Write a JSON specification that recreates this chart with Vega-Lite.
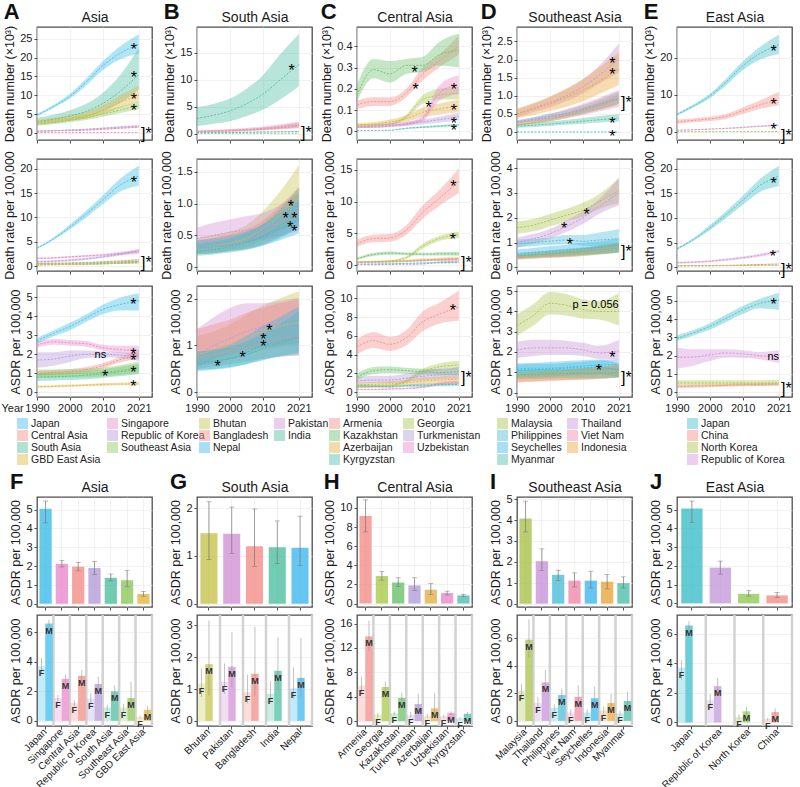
{
"$schema":"https://vega.github.io/schema/vega-lite/v6.json",
"background":"white",
"padding":{"left":0,"right":0,"top":0,"bottom":0},
"config":{
 "font":"Liberation Sans",
 "view":{"stroke":"#4d4d4d","strokeWidth":1.3},
 "axis":{"domain":false,"tickCount":30,"labelOverlap":false,"labelFontSize":11,"labelColor":"#1a1a1a","titleFontSize":12.5,"titleFontWeight":"normal","titleColor":"#1a1a1a","tickColor":"#4d4d4d","tickSize":3,"labelPadding":2,"titlePadding":3,"gridColor":"#ebebeb","gridWidth":0.7},
 "axisX":{"labelFlush":false},
 "title":{"fontSize":14,"fontWeight":"normal","color":"#111"},
 "legend":{"labelFontSize":10.5,"labelColor":"#222"}
},
"datasets":{
"A":[
{"s":"Japan","x":1990,"n":4.7,"nl":4.4,"nh":5.0,"r":3.7,"rl":3.5,"rh":3.9,"a":2.7,"al":2.55,"ah":2.85},
{"s":"Japan","x":1995,"n":7.0,"nl":6.6,"nh":7.4,"r":5.6,"rl":5.3,"rh":5.9,"a":3.1,"al":2.95,"ah":3.25},
{"s":"Japan","x":2000,"n":9.7,"nl":9.1,"nh":10.3,"r":8.0,"rl":7.5,"rh":8.5,"a":3.45,"al":3.25,"ah":3.65},
{"s":"Japan","x":2005,"n":13.5,"nl":12.6,"nh":14.4,"r":10.7,"rl":10.0,"rh":11.4,"a":3.9,"al":3.7,"ah":4.1},
{"s":"Japan","x":2010,"n":17.8,"nl":16.6,"nh":19.0,"r":13.6,"rl":12.7,"rh":14.5,"a":4.35,"al":4.1,"ah":4.6},
{"s":"Japan","x":2015,"n":21.0,"nl":19.4,"nh":22.8,"r":16.5,"rl":15.2,"rh":17.8,"a":4.6,"al":4.3,"ah":4.95},
{"s":"Japan","x":2021,"n":23.5,"nl":21.0,"nh":26.2,"r":18.5,"rl":16.5,"rh":20.6,"a":4.8,"al":4.3,"ah":5.2},
{"s":"Singapore","x":1990,"n":0.05,"nl":0.04,"nh":0.06,"r":1.6,"rl":1.45,"rh":1.75,"a":2.5,"al":2.35,"ah":2.65},
{"s":"Singapore","x":1995,"n":0.06,"nl":0.05,"nh":0.07,"r":1.7,"rl":1.5,"rh":1.9,"a":2.65,"al":2.5,"ah":2.8},
{"s":"Singapore","x":2000,"n":0.07,"nl":0.06,"nh":0.08,"r":1.9,"rl":1.7,"rh":2.1,"a":2.6,"al":2.45,"ah":2.75},
{"s":"Singapore","x":2005,"n":0.08,"nl":0.07,"nh":0.09,"r":2.1,"rl":1.9,"rh":2.3,"a":2.55,"al":2.4,"ah":2.7},
{"s":"Singapore","x":2010,"n":0.09,"nl":0.08,"nh":0.1,"r":2.3,"rl":2.1,"rh":2.5,"a":2.35,"al":2.2,"ah":2.5},
{"s":"Singapore","x":2015,"n":0.1,"nl":0.09,"nh":0.11,"r":2.6,"rl":2.3,"rh":2.9,"a":2.25,"al":2.05,"ah":2.45},
{"s":"Singapore","x":2021,"n":0.11,"nl":0.1,"nh":0.13,"r":2.9,"rl":2.5,"rh":3.3,"a":2.2,"al":1.95,"ah":2.45},
{"s":"Central Asia","x":1990,"n":0.45,"nl":0.38,"nh":0.52,"r":0.55,"rl":0.45,"rh":0.65,"a":1.0,"al":0.88,"ah":1.12},
{"s":"Central Asia","x":1995,"n":0.55,"nl":0.47,"nh":0.63,"r":0.6,"rl":0.5,"rh":0.7,"a":1.05,"al":0.93,"ah":1.17},
{"s":"Central Asia","x":2000,"n":0.6,"nl":0.52,"nh":0.69,"r":0.65,"rl":0.55,"rh":0.75,"a":1.1,"al":0.98,"ah":1.22},
{"s":"Central Asia","x":2005,"n":0.7,"nl":0.61,"nh":0.8,"r":0.75,"rl":0.65,"rh":0.85,"a":1.2,"al":1.07,"ah":1.33},
{"s":"Central Asia","x":2010,"n":0.95,"nl":0.83,"nh":1.08,"r":0.9,"rl":0.79,"rh":1.01,"a":1.4,"al":1.26,"ah":1.54},
{"s":"Central Asia","x":2015,"n":1.2,"nl":1.06,"nh":1.35,"r":1.05,"rl":0.93,"rh":1.17,"a":1.7,"al":1.55,"ah":1.85},
{"s":"Central Asia","x":2021,"n":1.5,"nl":1.32,"nh":1.7,"r":1.3,"rl":1.15,"rh":1.45,"a":1.95,"al":1.75,"ah":2.2},
{"s":"Republic of Korea","x":1990,"n":0.4,"nl":0.3,"nh":0.5,"r":0.9,"rl":0.7,"rh":1.1,"a":1.7,"al":1.3,"ah":2.1},
{"s":"Republic of Korea","x":1995,"n":0.55,"nl":0.43,"nh":0.67,"r":1.0,"rl":0.8,"rh":1.2,"a":1.75,"al":1.4,"ah":2.1},
{"s":"Republic of Korea","x":2000,"n":0.75,"nl":0.6,"nh":0.9,"r":1.2,"rl":1.0,"rh":1.4,"a":1.9,"al":1.6,"ah":2.2},
{"s":"Republic of Korea","x":2005,"n":0.95,"nl":0.78,"nh":1.12,"r":1.5,"rl":1.28,"rh":1.72,"a":2.0,"al":1.8,"ah":2.2},
{"s":"Republic of Korea","x":2010,"n":1.2,"nl":1.0,"nh":1.4,"r":1.9,"rl":1.65,"rh":2.15,"a":2.0,"al":1.85,"ah":2.15},
{"s":"Republic of Korea","x":2015,"n":1.5,"nl":1.28,"nh":1.72,"r":2.4,"rl":2.12,"rh":2.68,"a":1.95,"al":1.8,"ah":2.1},
{"s":"Republic of Korea","x":2021,"n":1.8,"nl":1.55,"nh":2.05,"r":3.2,"rl":2.85,"rh":3.55,"a":1.85,"al":1.65,"ah":2.05},
{"s":"South Asia","x":1990,"n":3.0,"nl":2.3,"nh":4.0,"r":0.25,"rl":0.19,"rh":0.33,"a":0.8,"al":0.6,"ah":1.0},
{"s":"South Asia","x":1995,"n":3.6,"nl":2.7,"nh":4.8,"r":0.3,"rl":0.23,"rh":0.39,"a":0.82,"al":0.62,"ah":1.03},
{"s":"South Asia","x":2000,"n":4.5,"nl":3.3,"nh":6.0,"r":0.35,"rl":0.27,"rh":0.45,"a":0.85,"al":0.65,"ah":1.07},
{"s":"South Asia","x":2005,"n":5.7,"nl":4.2,"nh":7.7,"r":0.42,"rl":0.32,"rh":0.54,"a":0.9,"al":0.69,"ah":1.13},
{"s":"South Asia","x":2010,"n":7.8,"nl":5.7,"nh":10.6,"r":0.52,"rl":0.4,"rh":0.67,"a":0.98,"al":0.76,"ah":1.22},
{"s":"South Asia","x":2015,"n":10.8,"nl":7.8,"nh":15.0,"r":0.65,"rl":0.5,"rh":0.84,"a":1.08,"al":0.85,"ah":1.34},
{"s":"South Asia","x":2021,"n":15.5,"nl":11.5,"nh":22.5,"r":0.85,"rl":0.65,"rh":1.1,"a":1.22,"al":0.95,"ah":1.52},
{"s":"Southeast Asia","x":1990,"n":2.2,"nl":1.9,"nh":2.6,"r":0.45,"rl":0.38,"rh":0.52,"a":0.95,"al":0.75,"ah":1.2},
{"s":"Southeast Asia","x":1995,"n":2.7,"nl":2.3,"nh":3.1,"r":0.5,"rl":0.43,"rh":0.58,"a":0.95,"al":0.75,"ah":1.2},
{"s":"Southeast Asia","x":2000,"n":3.3,"nl":2.8,"nh":3.8,"r":0.55,"rl":0.47,"rh":0.64,"a":0.98,"al":0.78,"ah":1.23},
{"s":"Southeast Asia","x":2005,"n":4.0,"nl":3.4,"nh":4.6,"r":0.62,"rl":0.53,"rh":0.72,"a":1.0,"al":0.8,"ah":1.25},
{"s":"Southeast Asia","x":2010,"n":5.0,"nl":4.3,"nh":5.8,"r":0.72,"rl":0.62,"rh":0.83,"a":1.05,"al":0.84,"ah":1.3},
{"s":"Southeast Asia","x":2015,"n":6.0,"nl":5.2,"nh":6.9,"r":0.85,"rl":0.73,"rh":0.98,"a":1.15,"al":0.92,"ah":1.42},
{"s":"Southeast Asia","x":2021,"n":7.2,"nl":6.2,"nh":8.3,"r":1.0,"rl":0.85,"rh":1.16,"a":1.3,"al":1.02,"ah":1.62},
{"s":"GBD East Asia","x":1990,"n":2.8,"nl":2.3,"nh":3.4,"r":0.25,"rl":0.21,"rh":0.29,"a":0.3,"al":0.24,"ah":0.36},
{"s":"GBD East Asia","x":1995,"n":3.3,"nl":2.7,"nh":4.0,"r":0.28,"rl":0.24,"rh":0.32,"a":0.32,"al":0.26,"ah":0.38},
{"s":"GBD East Asia","x":2000,"n":3.9,"nl":3.2,"nh":4.7,"r":0.32,"rl":0.27,"rh":0.37,"a":0.35,"al":0.29,"ah":0.41},
{"s":"GBD East Asia","x":2005,"n":4.6,"nl":3.8,"nh":5.6,"r":0.37,"rl":0.31,"rh":0.43,"a":0.38,"al":0.32,"ah":0.44},
{"s":"GBD East Asia","x":2010,"n":6.0,"nl":5.0,"nh":7.3,"r":0.45,"rl":0.38,"rh":0.52,"a":0.42,"al":0.35,"ah":0.49},
{"s":"GBD East Asia","x":2015,"n":8.0,"nl":6.6,"nh":9.8,"r":0.55,"rl":0.47,"rh":0.64,"a":0.44,"al":0.37,"ah":0.51},
{"s":"GBD East Asia","x":2021,"n":10.0,"nl":8.2,"nh":12.5,"r":0.65,"rl":0.55,"rh":0.76,"a":0.45,"al":0.38,"ah":0.53}
],
"B":[
{"s":"Bhutan","x":1990,"n":0.01,"nl":0.005,"nh":0.015,"r":0.3,"rl":0.2,"rh":0.45,"a":0.8,"al":0.55,"ah":1.2},
{"s":"Bhutan","x":1995,"n":0.01,"nl":0.005,"nh":0.015,"r":0.33,"rl":0.22,"rh":0.5,"a":0.9,"al":0.62,"ah":1.3},
{"s":"Bhutan","x":2000,"n":0.01,"nl":0.006,"nh":0.016,"r":0.38,"rl":0.26,"rh":0.56,"a":1.0,"al":0.7,"ah":1.45},
{"s":"Bhutan","x":2005,"n":0.012,"nl":0.007,"nh":0.018,"r":0.45,"rl":0.31,"rh":0.66,"a":1.15,"al":0.8,"ah":1.65},
{"s":"Bhutan","x":2010,"n":0.015,"nl":0.009,"nh":0.022,"r":0.6,"rl":0.42,"rh":0.88,"a":1.3,"al":0.9,"ah":1.85},
{"s":"Bhutan","x":2015,"n":0.018,"nl":0.011,"nh":0.027,"r":0.8,"rl":0.56,"rh":1.17,"a":1.4,"al":0.97,"ah":2.0},
{"s":"Bhutan","x":2021,"n":0.02,"nl":0.013,"nh":0.03,"r":1.05,"rl":0.72,"rh":1.6,"a":1.5,"al":1.0,"ah":2.15},
{"s":"Pakistan","x":1990,"n":0.4,"nl":0.28,"nh":0.56,"r":0.45,"rl":0.3,"rh":0.62,"a":0.8,"al":0.55,"ah":1.35},
{"s":"Pakistan","x":1995,"n":0.5,"nl":0.35,"nh":0.7,"r":0.5,"rl":0.34,"rh":0.7,"a":1.0,"al":0.7,"ah":1.6},
{"s":"Pakistan","x":2000,"n":0.6,"nl":0.42,"nh":0.84,"r":0.55,"rl":0.38,"rh":0.75,"a":1.15,"al":0.8,"ah":1.8},
{"s":"Pakistan","x":2005,"n":0.75,"nl":0.53,"nh":1.05,"r":0.58,"rl":0.4,"rh":0.8,"a":1.3,"al":0.9,"ah":1.9},
{"s":"Pakistan","x":2010,"n":0.95,"nl":0.67,"nh":1.33,"r":0.62,"rl":0.43,"rh":0.85,"a":1.4,"al":0.97,"ah":1.9},
{"s":"Pakistan","x":2015,"n":1.2,"nl":0.84,"nh":1.68,"r":0.7,"rl":0.48,"rh":0.97,"a":1.45,"al":1.0,"ah":1.95},
{"s":"Pakistan","x":2021,"n":1.6,"nl":1.12,"nh":2.24,"r":0.85,"rl":0.58,"rh":1.17,"a":1.46,"al":1.05,"ah":2.02},
{"s":"Bangladesh","x":1990,"n":0.35,"nl":0.25,"nh":0.49,"r":0.3,"rl":0.21,"rh":0.42,"a":0.75,"al":0.5,"ah":1.35},
{"s":"Bangladesh","x":1995,"n":0.42,"nl":0.29,"nh":0.59,"r":0.33,"rl":0.23,"rh":0.46,"a":0.8,"al":0.55,"ah":1.45},
{"s":"Bangladesh","x":2000,"n":0.5,"nl":0.35,"nh":0.7,"r":0.37,"rl":0.26,"rh":0.52,"a":0.88,"al":0.6,"ah":1.55},
{"s":"Bangladesh","x":2005,"n":0.62,"nl":0.43,"nh":0.87,"r":0.42,"rl":0.29,"rh":0.59,"a":0.95,"al":0.65,"ah":1.7},
{"s":"Bangladesh","x":2010,"n":0.8,"nl":0.56,"nh":1.12,"r":0.52,"rl":0.36,"rh":0.73,"a":1.05,"al":0.72,"ah":1.8},
{"s":"Bangladesh","x":2015,"n":1.05,"nl":0.74,"nh":1.47,"r":0.68,"rl":0.48,"rh":0.95,"a":1.12,"al":0.76,"ah":1.9},
{"s":"Bangladesh","x":2021,"n":1.4,"nl":0.98,"nh":1.96,"r":0.9,"rl":0.63,"rh":1.26,"a":1.2,"al":0.78,"ah":1.98},
{"s":"India","x":1990,"n":2.8,"nl":1.4,"nh":4.9,"r":0.25,"rl":0.18,"rh":0.36,"a":0.65,"al":0.48,"ah":0.88},
{"s":"India","x":1995,"n":3.4,"nl":1.8,"nh":5.5,"r":0.28,"rl":0.2,"rh":0.4,"a":0.67,"al":0.5,"ah":0.9},
{"s":"India","x":2000,"n":4.2,"nl":2.3,"nh":6.5,"r":0.32,"rl":0.23,"rh":0.45,"a":0.72,"al":0.54,"ah":0.97},
{"s":"India","x":2005,"n":5.5,"nl":3.2,"nh":8.3,"r":0.38,"rl":0.27,"rh":0.54,"a":0.8,"al":0.6,"ah":1.08},
{"s":"India","x":2010,"n":7.3,"nl":4.4,"nh":10.8,"r":0.48,"rl":0.34,"rh":0.68,"a":0.93,"al":0.68,"ah":1.25},
{"s":"India","x":2015,"n":9.8,"nl":6.2,"nh":14.5,"r":0.64,"rl":0.45,"rh":0.9,"a":1.05,"al":0.77,"ah":1.45},
{"s":"India","x":2021,"n":12.8,"nl":8.8,"nh":18.5,"r":0.9,"rl":0.64,"rh":1.25,"a":1.18,"al":0.84,"ah":1.73},
{"s":"Nepal","x":1990,"n":0.15,"nl":0.1,"nh":0.21,"r":0.3,"rl":0.21,"rh":0.42,"a":0.6,"al":0.45,"ah":0.85},
{"s":"Nepal","x":1995,"n":0.17,"nl":0.12,"nh":0.24,"r":0.32,"rl":0.22,"rh":0.45,"a":0.65,"al":0.48,"ah":0.92},
{"s":"Nepal","x":2000,"n":0.2,"nl":0.14,"nh":0.28,"r":0.35,"rl":0.25,"rh":0.49,"a":0.72,"al":0.52,"ah":1.02},
{"s":"Nepal","x":2005,"n":0.23,"nl":0.16,"nh":0.32,"r":0.4,"rl":0.28,"rh":0.56,"a":0.85,"al":0.6,"ah":1.2},
{"s":"Nepal","x":2010,"n":0.27,"nl":0.19,"nh":0.38,"r":0.48,"rl":0.34,"rh":0.67,"a":1.0,"al":0.7,"ah":1.42},
{"s":"Nepal","x":2015,"n":0.31,"nl":0.22,"nh":0.43,"r":0.6,"rl":0.42,"rh":0.84,"a":1.1,"al":0.76,"ah":1.6},
{"s":"Nepal","x":2021,"n":0.35,"nl":0.25,"nh":0.49,"r":0.75,"rl":0.53,"rh":1.05,"a":1.17,"al":0.8,"ah":1.83}
],
"C":[
{"s":"Armenia","x":1990,"n":0.125,"nl":0.105,"nh":0.145,"r":3.4,"rl":2.9,"rh":4.0,"a":4.8,"al":4.0,"ah":5.6},
{"s":"Armenia","x":1995,"n":0.14,"nl":0.12,"nh":0.16,"r":4.2,"rl":3.6,"rh":4.8,"a":5.5,"al":4.7,"ah":6.4},
{"s":"Armenia","x":2000,"n":0.14,"nl":0.12,"nh":0.16,"r":4.3,"rl":3.7,"rh":4.9,"a":5.1,"al":4.4,"ah":5.9},
{"s":"Armenia","x":2005,"n":0.18,"nl":0.16,"nh":0.2,"r":5.5,"rl":4.8,"rh":6.3,"a":5.8,"al":5.0,"ah":6.6},
{"s":"Armenia","x":2010,"n":0.27,"nl":0.24,"nh":0.3,"r":8.3,"rl":7.3,"rh":9.4,"a":7.5,"al":6.5,"ah":8.6},
{"s":"Armenia","x":2015,"n":0.33,"nl":0.3,"nh":0.36,"r":10.5,"rl":9.3,"rh":11.8,"a":8.3,"al":7.3,"ah":9.5},
{"s":"Armenia","x":2021,"n":0.4,"nl":0.36,"nh":0.45,"r":13.2,"rl":11.3,"rh":15.2,"a":9.1,"al":7.6,"ah":10.8},
{"s":"Georgia","x":1990,"n":0.03,"nl":0.025,"nh":0.035,"r":0.5,"rl":0.42,"rh":0.6,"a":0.5,"al":0.42,"ah":0.6},
{"s":"Georgia","x":1995,"n":0.03,"nl":0.025,"nh":0.035,"r":0.6,"rl":0.5,"rh":0.7,"a":0.6,"al":0.5,"ah":0.7},
{"s":"Georgia","x":2000,"n":0.035,"nl":0.03,"nh":0.04,"r":0.7,"rl":0.6,"rh":0.8,"a":0.7,"al":0.6,"ah":0.8},
{"s":"Georgia","x":2005,"n":0.07,"nl":0.06,"nh":0.08,"r":1.2,"rl":1.0,"rh":1.4,"a":1.2,"al":1.0,"ah":1.4},
{"s":"Georgia","x":2010,"n":0.15,"nl":0.13,"nh":0.17,"r":3.0,"rl":2.6,"rh":3.4,"a":2.2,"al":1.9,"ah":2.5},
{"s":"Georgia","x":2015,"n":0.17,"nl":0.15,"nh":0.2,"r":4.2,"rl":3.8,"rh":4.6,"a":2.7,"al":2.35,"ah":3.05},
{"s":"Georgia","x":2021,"n":0.18,"nl":0.15,"nh":0.21,"r":4.8,"rl":4.3,"rh":5.3,"a":2.9,"al":2.5,"ah":3.35},
{"s":"Kazakhstan","x":1990,"n":0.17,"nl":0.14,"nh":0.22,"r":1.0,"rl":0.85,"rh":1.2,"a":1.6,"al":1.3,"ah":2.0},
{"s":"Kazakhstan","x":1995,"n":0.29,"nl":0.25,"nh":0.34,"r":1.7,"rl":1.45,"rh":1.95,"a":2.3,"al":1.95,"ah":2.7},
{"s":"Kazakhstan","x":2000,"n":0.27,"nl":0.23,"nh":0.33,"r":1.9,"rl":1.65,"rh":2.15,"a":2.4,"al":2.05,"ah":2.75},
{"s":"Kazakhstan","x":2005,"n":0.31,"nl":0.27,"nh":0.34,"r":1.8,"rl":1.6,"rh":2.0,"a":2.3,"al":2.0,"ah":2.6},
{"s":"Kazakhstan","x":2010,"n":0.31,"nl":0.28,"nh":0.35,"r":1.75,"rl":1.55,"rh":1.95,"a":2.2,"al":1.9,"ah":2.5},
{"s":"Kazakhstan","x":2015,"n":0.36,"nl":0.31,"nh":0.42,"r":1.8,"rl":1.55,"rh":2.05,"a":2.1,"al":1.8,"ah":2.45},
{"s":"Kazakhstan","x":2021,"n":0.38,"nl":0.3,"nh":0.46,"r":1.8,"rl":1.5,"rh":2.1,"a":2.2,"al":1.8,"ah":2.7},
{"s":"Turkmenistan","x":1990,"n":0.02,"nl":0.015,"nh":0.025,"r":0.45,"rl":0.36,"rh":0.54,"a":1.2,"al":0.9,"ah":1.6},
{"s":"Turkmenistan","x":1995,"n":0.025,"nl":0.019,"nh":0.031,"r":0.5,"rl":0.4,"rh":0.6,"a":1.3,"al":0.98,"ah":1.75},
{"s":"Turkmenistan","x":2000,"n":0.03,"nl":0.023,"nh":0.038,"r":0.55,"rl":0.44,"rh":0.66,"a":1.3,"al":0.98,"ah":1.75},
{"s":"Turkmenistan","x":2005,"n":0.035,"nl":0.026,"nh":0.044,"r":0.65,"rl":0.52,"rh":0.78,"a":1.5,"al":1.13,"ah":2.0},
{"s":"Turkmenistan","x":2010,"n":0.045,"nl":0.034,"nh":0.056,"r":0.75,"rl":0.6,"rh":0.9,"a":1.7,"al":1.28,"ah":2.3},
{"s":"Turkmenistan","x":2015,"n":0.055,"nl":0.041,"nh":0.069,"r":0.85,"rl":0.68,"rh":1.02,"a":1.85,"al":1.39,"ah":2.5},
{"s":"Turkmenistan","x":2021,"n":0.07,"nl":0.053,"nh":0.088,"r":1.0,"rl":0.8,"rh":1.2,"a":1.9,"al":1.43,"ah":2.55},
{"s":"Azerbaijan","x":1990,"n":0.03,"nl":0.023,"nh":0.038,"r":0.5,"rl":0.38,"rh":0.63,"a":0.8,"al":0.56,"ah":1.04},
{"s":"Azerbaijan","x":1995,"n":0.035,"nl":0.026,"nh":0.044,"r":0.55,"rl":0.41,"rh":0.69,"a":0.85,"al":0.6,"ah":1.1},
{"s":"Azerbaijan","x":2000,"n":0.045,"nl":0.034,"nh":0.056,"r":0.6,"rl":0.45,"rh":0.75,"a":0.9,"al":0.63,"ah":1.17},
{"s":"Azerbaijan","x":2005,"n":0.06,"nl":0.045,"nh":0.075,"r":0.7,"rl":0.53,"rh":0.88,"a":1.0,"al":0.7,"ah":1.3},
{"s":"Azerbaijan","x":2010,"n":0.09,"nl":0.068,"nh":0.113,"r":0.85,"rl":0.64,"rh":1.06,"a":1.2,"al":0.84,"ah":1.56},
{"s":"Azerbaijan","x":2015,"n":0.105,"nl":0.079,"nh":0.131,"r":0.95,"rl":0.71,"rh":1.19,"a":1.3,"al":0.91,"ah":1.69},
{"s":"Azerbaijan","x":2021,"n":0.12,"nl":0.09,"nh":0.15,"r":1.05,"rl":0.79,"rh":1.31,"a":1.4,"al":0.98,"ah":1.82},
{"s":"Uzbekistan","x":1990,"n":0.02,"nl":0.016,"nh":0.024,"r":0.1,"rl":0.08,"rh":0.12,"a":0.3,"al":0.24,"ah":0.36},
{"s":"Uzbekistan","x":1995,"n":0.02,"nl":0.016,"nh":0.024,"r":0.1,"rl":0.08,"rh":0.12,"a":0.3,"al":0.24,"ah":0.36},
{"s":"Uzbekistan","x":2000,"n":0.025,"nl":0.02,"nh":0.03,"r":0.12,"rl":0.1,"rh":0.14,"a":0.35,"al":0.28,"ah":0.42},
{"s":"Uzbekistan","x":2005,"n":0.035,"nl":0.028,"nh":0.042,"r":0.14,"rl":0.11,"rh":0.17,"a":0.4,"al":0.32,"ah":0.48},
{"s":"Uzbekistan","x":2010,"n":0.06,"nl":0.048,"nh":0.072,"r":0.2,"rl":0.16,"rh":0.24,"a":0.55,"al":0.44,"ah":0.66},
{"s":"Uzbekistan","x":2015,"n":0.18,"nl":0.144,"nh":0.216,"r":0.5,"rl":0.4,"rh":0.6,"a":0.9,"al":0.72,"ah":1.08},
{"s":"Uzbekistan","x":2021,"n":0.22,"nl":0.176,"nh":0.264,"r":0.65,"rl":0.52,"rh":0.78,"a":1.05,"al":0.84,"ah":1.26},
{"s":"Kyrgyzstan","x":1990,"n":0.005,"nl":0.004,"nh":0.006,"r":0.2,"rl":0.16,"rh":0.24,"a":0.7,"al":0.56,"ah":0.84},
{"s":"Kyrgyzstan","x":1995,"n":0.005,"nl":0.004,"nh":0.006,"r":0.2,"rl":0.16,"rh":0.24,"a":0.65,"al":0.52,"ah":0.78},
{"s":"Kyrgyzstan","x":2000,"n":0.006,"nl":0.005,"nh":0.007,"r":0.22,"rl":0.18,"rh":0.26,"a":0.6,"al":0.48,"ah":0.72},
{"s":"Kyrgyzstan","x":2005,"n":0.015,"nl":0.012,"nh":0.018,"r":0.3,"rl":0.24,"rh":0.36,"a":0.7,"al":0.56,"ah":0.84},
{"s":"Kyrgyzstan","x":2010,"n":0.02,"nl":0.016,"nh":0.024,"r":0.35,"rl":0.28,"rh":0.42,"a":0.75,"al":0.6,"ah":0.9},
{"s":"Kyrgyzstan","x":2015,"n":0.025,"nl":0.02,"nh":0.03,"r":0.38,"rl":0.3,"rh":0.46,"a":0.8,"al":0.64,"ah":0.96},
{"s":"Kyrgyzstan","x":2021,"n":0.03,"nl":0.024,"nh":0.036,"r":0.42,"rl":0.34,"rh":0.5,"a":0.85,"al":0.68,"ah":1.02}
],
"D":[
{"s":"Malaysia","x":1990,"n":0.2,"nl":0.17,"nh":0.23,"r":1.6,"rl":1.35,"rh":1.85,"a":3.3,"al":2.8,"ah":3.85},
{"s":"Malaysia","x":1995,"n":0.26,"nl":0.22,"nh":0.3,"r":1.7,"rl":1.45,"rh":1.95,"a":3.8,"al":3.3,"ah":4.35},
{"s":"Malaysia","x":2000,"n":0.34,"nl":0.29,"nh":0.39,"r":1.9,"rl":1.65,"rh":2.15,"a":4.4,"al":3.85,"ah":4.95},
{"s":"Malaysia","x":2005,"n":0.45,"nl":0.38,"nh":0.52,"r":2.1,"rl":1.85,"rh":2.35,"a":4.3,"al":3.8,"ah":4.85},
{"s":"Malaysia","x":2010,"n":0.58,"nl":0.49,"nh":0.67,"r":2.3,"rl":2.05,"rh":2.6,"a":4.1,"al":3.65,"ah":4.6},
{"s":"Malaysia","x":2015,"n":0.72,"nl":0.61,"nh":0.83,"r":2.65,"rl":2.35,"rh":2.95,"a":4.0,"al":3.6,"ah":4.5},
{"s":"Malaysia","x":2021,"n":0.9,"nl":0.77,"nh":1.04,"r":3.1,"rl":2.6,"rh":3.6,"a":4.0,"al":3.3,"ah":4.9},
{"s":"Thailand","x":1990,"n":0.5,"nl":0.4,"nh":0.62,"r":1.0,"rl":0.8,"rh":1.2,"a":2.1,"al":1.7,"ah":2.5},
{"s":"Thailand","x":1995,"n":0.66,"nl":0.55,"nh":0.78,"r":1.15,"rl":0.95,"rh":1.35,"a":2.2,"al":1.8,"ah":2.6},
{"s":"Thailand","x":2000,"n":0.82,"nl":0.68,"nh":0.97,"r":1.35,"rl":1.15,"rh":1.55,"a":2.2,"al":1.85,"ah":2.6},
{"s":"Thailand","x":2005,"n":1.0,"nl":0.85,"nh":1.18,"r":1.65,"rl":1.42,"rh":1.88,"a":2.2,"al":1.85,"ah":2.55},
{"s":"Thailand","x":2010,"n":1.25,"nl":1.06,"nh":1.46,"r":2.0,"rl":1.75,"rh":2.25,"a":2.1,"al":1.8,"ah":2.45},
{"s":"Thailand","x":2015,"n":1.57,"nl":1.33,"nh":1.83,"r":2.45,"rl":2.15,"rh":2.75,"a":1.95,"al":1.65,"ah":2.3},
{"s":"Thailand","x":2021,"n":2.03,"nl":1.65,"nh":2.45,"r":3.0,"rl":2.5,"rh":3.6,"a":2.05,"al":1.6,"ah":2.6},
{"s":"Philippines","x":1990,"n":0.28,"nl":0.23,"nh":0.33,"r":0.95,"rl":0.8,"rh":1.1,"a":1.15,"al":0.95,"ah":1.38},
{"s":"Philippines","x":1995,"n":0.35,"nl":0.29,"nh":0.41,"r":1.0,"rl":0.85,"rh":1.15,"a":1.2,"al":1.0,"ah":1.42},
{"s":"Philippines","x":2000,"n":0.43,"nl":0.35,"nh":0.51,"r":1.05,"rl":0.9,"rh":1.2,"a":1.2,"al":1.0,"ah":1.42},
{"s":"Philippines","x":2005,"n":0.52,"nl":0.43,"nh":0.61,"r":1.1,"rl":0.93,"rh":1.3,"a":1.25,"al":1.05,"ah":1.47},
{"s":"Philippines","x":2010,"n":0.63,"nl":0.52,"nh":0.74,"r":1.05,"rl":0.88,"rh":1.3,"a":1.3,"al":1.1,"ah":1.52},
{"s":"Philippines","x":2015,"n":0.76,"nl":0.62,"nh":0.9,"r":1.1,"rl":0.85,"rh":1.4,"a":1.35,"al":1.12,"ah":1.58},
{"s":"Philippines","x":2021,"n":0.95,"nl":0.78,"nh":1.12,"r":1.15,"rl":0.8,"rh":1.55,"a":1.38,"al":1.12,"ah":1.62},
{"s":"Viet Nam","x":1990,"n":0.25,"nl":0.19,"nh":0.31,"r":0.4,"rl":0.3,"rh":0.5,"a":0.7,"al":0.49,"ah":0.91},
{"s":"Viet Nam","x":1995,"n":0.32,"nl":0.24,"nh":0.4,"r":0.45,"rl":0.34,"rh":0.56,"a":0.75,"al":0.53,"ah":0.98},
{"s":"Viet Nam","x":2000,"n":0.4,"nl":0.3,"nh":0.5,"r":0.5,"rl":0.38,"rh":0.63,"a":0.8,"al":0.56,"ah":1.04},
{"s":"Viet Nam","x":2005,"n":0.5,"nl":0.38,"nh":0.63,"r":0.55,"rl":0.41,"rh":0.69,"a":0.85,"al":0.6,"ah":1.1},
{"s":"Viet Nam","x":2010,"n":0.62,"nl":0.47,"nh":0.78,"r":0.62,"rl":0.47,"rh":0.78,"a":0.9,"al":0.63,"ah":1.17},
{"s":"Viet Nam","x":2015,"n":0.76,"nl":0.57,"nh":0.95,"r":0.7,"rl":0.53,"rh":0.88,"a":0.95,"al":0.67,"ah":1.24},
{"s":"Viet Nam","x":2021,"n":0.93,"nl":0.7,"nh":1.16,"r":0.8,"rl":0.6,"rh":1.0,"a":1.05,"al":0.74,"ah":1.37},
{"s":"Seychelles","x":1990,"n":0.002,"nl":0.001,"nh":0.003,"r":0.55,"rl":0.39,"rh":0.72,"a":1.1,"al":0.77,"ah":1.43},
{"s":"Seychelles","x":1995,"n":0.002,"nl":0.001,"nh":0.003,"r":0.6,"rl":0.42,"rh":0.78,"a":1.12,"al":0.78,"ah":1.46},
{"s":"Seychelles","x":2000,"n":0.002,"nl":0.001,"nh":0.003,"r":0.65,"rl":0.46,"rh":0.85,"a":1.15,"al":0.8,"ah":1.5},
{"s":"Seychelles","x":2005,"n":0.002,"nl":0.001,"nh":0.003,"r":0.7,"rl":0.49,"rh":0.91,"a":1.2,"al":0.84,"ah":1.56},
{"s":"Seychelles","x":2010,"n":0.002,"nl":0.001,"nh":0.003,"r":0.75,"rl":0.53,"rh":0.98,"a":1.22,"al":0.85,"ah":1.59},
{"s":"Seychelles","x":2015,"n":0.002,"nl":0.001,"nh":0.003,"r":0.8,"rl":0.56,"rh":1.04,"a":1.25,"al":0.88,"ah":1.63},
{"s":"Seychelles","x":2021,"n":0.002,"nl":0.001,"nh":0.003,"r":0.9,"rl":0.63,"rh":1.17,"a":1.1,"al":0.77,"ah":1.43},
{"s":"Indonesia","x":1990,"n":0.5,"nl":0.38,"nh":0.65,"r":0.42,"rl":0.32,"rh":0.53,"a":0.75,"al":0.53,"ah":0.98},
{"s":"Indonesia","x":1995,"n":0.63,"nl":0.47,"nh":0.8,"r":0.46,"rl":0.35,"rh":0.58,"a":0.8,"al":0.56,"ah":1.04},
{"s":"Indonesia","x":2000,"n":0.78,"nl":0.58,"nh":0.98,"r":0.5,"rl":0.38,"rh":0.63,"a":0.85,"al":0.6,"ah":1.1},
{"s":"Indonesia","x":2005,"n":0.95,"nl":0.7,"nh":1.2,"r":0.54,"rl":0.41,"rh":0.68,"a":0.88,"al":0.62,"ah":1.14},
{"s":"Indonesia","x":2010,"n":1.15,"nl":0.85,"nh":1.45,"r":0.6,"rl":0.45,"rh":0.75,"a":0.92,"al":0.64,"ah":1.2},
{"s":"Indonesia","x":2015,"n":1.4,"nl":1.05,"nh":1.78,"r":0.68,"rl":0.51,"rh":0.85,"a":0.97,"al":0.68,"ah":1.26},
{"s":"Indonesia","x":2021,"n":1.75,"nl":1.3,"nh":2.2,"r":0.78,"rl":0.59,"rh":0.98,"a":1.05,"al":0.74,"ah":1.37},
{"s":"Myanmar","x":1990,"n":0.16,"nl":0.12,"nh":0.21,"r":0.45,"rl":0.34,"rh":0.56,"a":0.9,"al":0.68,"ah":1.13},
{"s":"Myanmar","x":1995,"n":0.19,"nl":0.14,"nh":0.25,"r":0.5,"rl":0.38,"rh":0.63,"a":0.9,"al":0.68,"ah":1.13},
{"s":"Myanmar","x":2000,"n":0.22,"nl":0.17,"nh":0.29,"r":0.55,"rl":0.41,"rh":0.69,"a":0.92,"al":0.69,"ah":1.15},
{"s":"Myanmar","x":2005,"n":0.26,"nl":0.2,"nh":0.34,"r":0.6,"rl":0.45,"rh":0.75,"a":0.93,"al":0.7,"ah":1.16},
{"s":"Myanmar","x":2010,"n":0.3,"nl":0.23,"nh":0.39,"r":0.65,"rl":0.49,"rh":0.81,"a":0.94,"al":0.71,"ah":1.18},
{"s":"Myanmar","x":2015,"n":0.34,"nl":0.26,"nh":0.44,"r":0.7,"rl":0.53,"rh":0.88,"a":0.95,"al":0.71,"ah":1.19},
{"s":"Myanmar","x":2021,"n":0.38,"nl":0.29,"nh":0.49,"r":0.78,"rl":0.59,"rh":0.98,"a":0.98,"al":0.74,"ah":1.23}
],
"E":[
{"s":"Japan","x":1990,"n":4.7,"nl":4.4,"nh":5.0,"r":3.7,"rl":3.5,"rh":3.9,"a":2.95,"al":2.8,"ah":3.1},
{"s":"Japan","x":1995,"n":7.0,"nl":6.6,"nh":7.4,"r":5.6,"rl":5.3,"rh":5.9,"a":3.25,"al":3.1,"ah":3.4},
{"s":"Japan","x":2000,"n":9.7,"nl":9.1,"nh":10.3,"r":8.0,"rl":7.5,"rh":8.5,"a":3.6,"al":3.42,"ah":3.78},
{"s":"Japan","x":2005,"n":13.5,"nl":12.6,"nh":14.4,"r":10.7,"rl":10.0,"rh":11.4,"a":4.05,"al":3.85,"ah":4.25},
{"s":"Japan","x":2010,"n":17.8,"nl":16.6,"nh":19.0,"r":13.6,"rl":12.7,"rh":14.5,"a":4.5,"al":4.28,"ah":4.72},
{"s":"Japan","x":2015,"n":21.0,"nl":19.4,"nh":22.8,"r":16.5,"rl":15.2,"rh":17.8,"a":4.85,"al":4.6,"ah":5.1},
{"s":"Japan","x":2021,"n":23.5,"nl":21.0,"nh":26.2,"r":18.5,"rl":16.5,"rh":20.6,"a":5.05,"al":4.5,"ah":5.45},
{"s":"China","x":1990,"n":2.7,"nl":2.2,"nh":3.3,"r":0.22,"rl":0.18,"rh":0.26,"a":0.3,"al":0.22,"ah":0.38},
{"s":"China","x":1995,"n":3.1,"nl":2.6,"nh":3.7,"r":0.25,"rl":0.2,"rh":0.3,"a":0.32,"al":0.24,"ah":0.4},
{"s":"China","x":2000,"n":3.5,"nl":2.95,"nh":4.1,"r":0.28,"rl":0.22,"rh":0.34,"a":0.34,"al":0.26,"ah":0.42},
{"s":"China","x":2005,"n":4.2,"nl":3.5,"nh":4.9,"r":0.33,"rl":0.26,"rh":0.4,"a":0.37,"al":0.29,"ah":0.45},
{"s":"China","x":2010,"n":5.7,"nl":4.8,"nh":6.6,"r":0.42,"rl":0.34,"rh":0.5,"a":0.4,"al":0.32,"ah":0.48},
{"s":"China","x":2015,"n":7.2,"nl":6.1,"nh":8.4,"r":0.52,"rl":0.42,"rh":0.62,"a":0.42,"al":0.34,"ah":0.5},
{"s":"China","x":2021,"n":8.6,"nl":7.2,"nh":10.8,"r":0.62,"rl":0.5,"rh":0.74,"a":0.44,"al":0.35,"ah":0.53},
{"s":"North Korea","x":1990,"n":0.05,"nl":0.04,"nh":0.06,"r":0.25,"rl":0.15,"rh":0.35,"a":0.5,"al":0.35,"ah":0.65},
{"s":"North Korea","x":1995,"n":0.05,"nl":0.04,"nh":0.06,"r":0.27,"rl":0.17,"rh":0.37,"a":0.5,"al":0.35,"ah":0.65},
{"s":"North Korea","x":2000,"n":0.055,"nl":0.044,"nh":0.066,"r":0.28,"rl":0.18,"rh":0.38,"a":0.5,"al":0.35,"ah":0.65},
{"s":"North Korea","x":2005,"n":0.06,"nl":0.048,"nh":0.072,"r":0.3,"rl":0.2,"rh":0.4,"a":0.5,"al":0.35,"ah":0.65},
{"s":"North Korea","x":2010,"n":0.06,"nl":0.048,"nh":0.072,"r":0.32,"rl":0.22,"rh":0.42,"a":0.5,"al":0.35,"ah":0.65},
{"s":"North Korea","x":2015,"n":0.065,"nl":0.052,"nh":0.078,"r":0.35,"rl":0.25,"rh":0.45,"a":0.5,"al":0.35,"ah":0.65},
{"s":"North Korea","x":2021,"n":0.07,"nl":0.056,"nh":0.084,"r":0.38,"rl":0.28,"rh":0.48,"a":0.5,"al":0.36,"ah":0.66},
{"s":"Republic of Korea","x":1990,"n":0.4,"nl":0.3,"nh":0.5,"r":0.9,"rl":0.7,"rh":1.1,"a":1.9,"al":1.3,"ah":2.45},
{"s":"Republic of Korea","x":1995,"n":0.55,"nl":0.43,"nh":0.67,"r":1.0,"rl":0.8,"rh":1.2,"a":1.92,"al":1.45,"ah":2.35},
{"s":"Republic of Korea","x":2000,"n":0.75,"nl":0.6,"nh":0.9,"r":1.2,"rl":1.0,"rh":1.4,"a":2.05,"al":1.7,"ah":2.35},
{"s":"Republic of Korea","x":2005,"n":0.95,"nl":0.78,"nh":1.12,"r":1.5,"rl":1.28,"rh":1.72,"a":2.15,"al":1.9,"ah":2.35},
{"s":"Republic of Korea","x":2010,"n":1.2,"nl":1.0,"nh":1.4,"r":1.9,"rl":1.65,"rh":2.15,"a":2.1,"al":1.88,"ah":2.3},
{"s":"Republic of Korea","x":2015,"n":1.5,"nl":1.28,"nh":1.72,"r":2.4,"rl":2.12,"rh":2.68,"a":2.0,"al":1.8,"ah":2.2},
{"s":"Republic of Korea","x":2021,"n":1.8,"nl":1.55,"nh":2.05,"r":3.2,"rl":2.85,"rh":3.55,"a":1.95,"al":1.6,"ah":2.3}
],
"ann":[
{"p":"A1","x":2019.5,"y":23.3,"t":"*"},{"p":"A1","x":2019.5,"y":15.9,"t":"*"},{"p":"A1","x":2019.5,"y":10,"t":"*"},{"p":"A1","x":2019.5,"y":7.2,"t":"*"},{"p":"A1","x":2023.3,"y":0.9,"t":"]*"},
{"p":"A2","x":2019.5,"y":18,"t":"*"},{"p":"A2","x":2023.3,"y":1.7,"t":"]*"},
{"p":"A3","x":2019.3,"y":4.85,"t":"*"},{"p":"A3","x":2019.3,"y":2.24,"t":"*"},{"p":"A3","x":2019.3,"y":1.9,"t":"*"},{"p":"A3","x":2019.3,"y":1.3,"t":"*"},{"p":"A3","x":2019.3,"y":0.54,"t":"*"},{"p":"A3","x":2010.7,"y":1.05,"t":"*"},
{"p":"B1","x":2018.8,"y":12.5,"t":"*"},{"p":"B1","x":2023.3,"y":1.07,"t":"]*"},
{"p":"B2","x":2018.6,"y":1.03,"t":"*"},{"p":"B2","x":2017,"y":0.83,"t":"*"},{"p":"B2","x":2019.6,"y":0.83,"t":"*"},{"p":"B2","x":2018.3,"y":0.7,"t":"*"},{"p":"B2","x":2019.6,"y":0.63,"t":"*"},
{"p":"B3","x":1996.3,"y":0.65,"t":"*"},{"p":"B3","x":2003.9,"y":0.84,"t":"*"},{"p":"B3","x":2010.2,"y":1.08,"t":"*"},{"p":"B3","x":2010.2,"y":1.23,"t":"*"},{"p":"B3","x":2012,"y":1.41,"t":"*"},
{"p":"C1","x":2007.5,"y":0.3,"t":"*"},{"p":"C1","x":2007.8,"y":0.22,"t":"*"},{"p":"C1","x":2011.8,"y":0.135,"t":"*"},{"p":"C1","x":2019.5,"y":0.22,"t":"*"},{"p":"C1","x":2019.5,"y":0.118,"t":"*"},{"p":"C1","x":2019.5,"y":0.06,"t":"*"},{"p":"C1","x":2019.5,"y":0.028,"t":"*"},
{"p":"C2","x":2019.3,"y":13.1,"t":"*"},{"p":"C2","x":2019.2,"y":4.8,"t":"*"},{"p":"C2","x":2023.3,"y":1.1,"t":"]*"},
{"p":"C3","x":2019.2,"y":9.2,"t":"*"},{"p":"C3","x":2023.3,"y":2.0,"t":"]*"},
{"p":"D1","x":2019,"y":2.03,"t":"*"},{"p":"D1","x":2019,"y":1.72,"t":"*"},{"p":"D1","x":2019,"y":0.36,"t":"*"},{"p":"D1","x":2019,"y":0,"t":"*"},{"p":"D1","x":2023.3,"y":0.95,"t":"]*"},
{"p":"D2","x":2011.2,"y":2.32,"t":"*"},{"p":"D2","x":2004.3,"y":1.74,"t":"*"},{"p":"D2","x":2006.1,"y":1.12,"t":"*"},{"p":"D2","x":2023.3,"y":0.83,"t":"]*"},
{"p":"D3","x":2019,"y":1.96,"t":"*"},{"p":"D3","x":2014.9,"y":1.32,"t":"*"},{"p":"D3","x":2023.3,"y":0.95,"t":"]*"},
{"p":"E1","x":2019.4,"y":23,"t":"*"},{"p":"E1","x":2019.4,"y":8.5,"t":"*"},{"p":"E1","x":2019.4,"y":1.9,"t":"*"},{"p":"E1","x":2023.3,"y":0.3,"t":"]*"},
{"p":"E2","x":2019.4,"y":18,"t":"*"},{"p":"E2","x":2019.2,"y":3,"t":"*"},{"p":"E2","x":2023.3,"y":0.4,"t":"]*"},
{"p":"E3","x":2019.4,"y":5.05,"t":"*"},{"p":"E3","x":2023.3,"y":0.45,"t":"]*"}
],
"wd":[
{"p":"A3","x":2009.3,"y":1.94,"t":"ns"},{"p":"D3","x":2013.9,"y":4.29,"t":"p = 0.056"},{"p":"E3","x":2019.3,"y":1.95,"t":"ns"}
],
"tot":[
{"g":"F","c":"Japan","v":5.05,"lo":4.3,"hi":5.45},{"g":"F","c":"Singapore","v":2.12,"lo":1.95,"hi":2.3},{"g":"F","c":"Central Asia","v":1.97,"lo":1.75,"hi":2.2},{"g":"F","c":"Republic of Korea","v":1.9,"lo":1.55,"hi":2.25},{"g":"F","c":"South Asia","v":1.38,"lo":1.22,"hi":1.58},{"g":"F","c":"Southeast Asia","v":1.25,"lo":0.9,"hi":1.78},{"g":"F","c":"GBD East Asia","v":0.52,"lo":0.4,"hi":0.65},
{"g":"G","c":"Bhutan","v":1.47,"lo":0.92,"hi":2.13},{"g":"G","c":"Pakistan","v":1.46,"lo":1.05,"hi":2.02},{"g":"G","c":"Bangladesh","v":1.2,"lo":0.78,"hi":1.98},{"g":"G","c":"India","v":1.18,"lo":0.84,"hi":1.73},{"g":"G","c":"Nepal","v":1.17,"lo":0.8,"hi":1.83},
{"g":"H","c":"Armenia","v":9.15,"lo":7.5,"hi":10.85},{"g":"H","c":"Georgia","v":2.88,"lo":2.45,"hi":3.35},{"g":"H","c":"Kazakhstan","v":2.2,"lo":1.8,"hi":2.7},{"g":"H","c":"Turkmenistan","v":1.9,"lo":1.35,"hi":2.7},{"g":"H","c":"Azerbaijan","v":1.45,"lo":0.95,"hi":2.1},{"g":"H","c":"Uzbekistan","v":1.1,"lo":0.9,"hi":1.3},{"g":"H","c":"Kyrgyzstan","v":0.85,"lo":0.72,"hi":0.97},
{"g":"I","c":"Malaysia","v":4.07,"lo":3.43,"hi":4.9},{"g":"I","c":"Thailand","v":2.03,"lo":1.58,"hi":2.62},{"g":"I","c":"Philippines","v":1.38,"lo":1.1,"hi":1.6},{"g":"I","c":"Viet Nam","v":1.1,"lo":0.8,"hi":1.47},{"g":"I","c":"Seychelles","v":1.1,"lo":0.75,"hi":1.55},{"g":"I","c":"Indonesia","v":1.05,"lo":0.7,"hi":1.4},{"g":"I","c":"Myanmar","v":0.98,"lo":0.75,"hi":1.28},
{"g":"J","c":"Japan","v":5.05,"lo":4.3,"hi":5.45},{"g":"J","c":"Republic of Korea","v":1.9,"lo":1.55,"hi":2.25},{"g":"J","c":"North Korea","v":0.5,"lo":0.38,"hi":0.67},{"g":"J","c":"China","v":0.42,"lo":0.3,"hi":0.57}
],
"sx":[
{"g":"F","c":"Japan","sex":"F","v":3.7,"lo":3.25,"hi":4.25},{"g":"F","c":"Japan","sex":"M","v":6.6,"lo":6.2,"hi":6.85},
{"g":"F","c":"Singapore","sex":"F","v":1.55,"lo":1.3,"hi":1.75},{"g":"F","c":"Singapore","sex":"M","v":2.85,"lo":2.6,"hi":3.15},
{"g":"F","c":"Central Asia","sex":"F","v":1.2,"lo":1.0,"hi":1.4},{"g":"F","c":"Central Asia","sex":"M","v":3.05,"lo":2.7,"hi":3.45},
{"g":"F","c":"Republic of Korea","sex":"F","v":1.5,"lo":1.15,"hi":1.9},{"g":"F","c":"Republic of Korea","sex":"M","v":2.5,"lo":2.0,"hi":3.0},
{"g":"F","c":"South Asia","sex":"F","v":0.9,"lo":0.7,"hi":1.1},{"g":"F","c":"South Asia","sex":"M","v":2.0,"lo":1.6,"hi":2.4},
{"g":"F","c":"Southeast Asia","sex":"F","v":0.9,"lo":0.6,"hi":1.15},{"g":"F","c":"Southeast Asia","sex":"M","v":1.55,"lo":0.95,"hi":2.65},
{"g":"F","c":"GBD East Asia","sex":"F","v":0.25,"lo":0.15,"hi":0.35},{"g":"F","c":"GBD East Asia","sex":"M","v":0.75,"lo":0.5,"hi":1.0},
{"g":"G","c":"Bhutan","sex":"F","v":1.17,"lo":0.75,"hi":1.65},{"g":"G","c":"Bhutan","sex":"M","v":1.78,"lo":0.8,"hi":3.15},
{"g":"G","c":"Pakistan","sex":"F","v":1.23,"lo":0.85,"hi":1.8},{"g":"G","c":"Pakistan","sex":"M","v":1.7,"lo":1.05,"hi":2.78},
{"g":"G","c":"Bangladesh","sex":"F","v":0.9,"lo":0.55,"hi":1.45},{"g":"G","c":"Bangladesh","sex":"M","v":1.48,"lo":0.8,"hi":2.95},
{"g":"G","c":"India","sex":"F","v":0.85,"lo":0.62,"hi":1.25},{"g":"G","c":"India","sex":"M","v":1.57,"lo":0.95,"hi":2.63},
{"g":"G","c":"Nepal","sex":"F","v":1.02,"lo":0.68,"hi":1.68},{"g":"G","c":"Nepal","sex":"M","v":1.35,"lo":0.75,"hi":2.6},
{"g":"H","c":"Armenia","sex":"F","v":5.8,"lo":4.6,"hi":7.3},{"g":"H","c":"Armenia","sex":"M","v":13.9,"lo":11.5,"hi":16.5},
{"g":"H","c":"Georgia","sex":"F","v":1.0,"lo":0.6,"hi":1.3},{"g":"H","c":"Georgia","sex":"M","v":5.6,"lo":4.5,"hi":6.5},
{"g":"H","c":"Kazakhstan","sex":"F","v":1.3,"lo":1.0,"hi":1.6},{"g":"H","c":"Kazakhstan","sex":"M","v":3.8,"lo":3.0,"hi":4.7},
{"g":"H","c":"Turkmenistan","sex":"F","v":1.0,"lo":0.6,"hi":1.5},{"g":"H","c":"Turkmenistan","sex":"M","v":2.8,"lo":1.5,"hi":4.5},
{"g":"H","c":"Azerbaijan","sex":"F","v":0.8,"lo":0.5,"hi":1.2},{"g":"H","c":"Azerbaijan","sex":"M","v":2.1,"lo":1.0,"hi":4.6},
{"g":"H","c":"Uzbekistan","sex":"F","v":0.8,"lo":0.6,"hi":1.05},{"g":"H","c":"Uzbekistan","sex":"M","v":1.33,"lo":1.0,"hi":1.65},
{"g":"H","c":"Kyrgyzstan","sex":"F","v":0.45,"lo":0.35,"hi":0.6},{"g":"H","c":"Kyrgyzstan","sex":"M","v":1.2,"lo":0.9,"hi":1.5},
{"g":"I","c":"Malaysia","sex":"F","v":2.2,"lo":1.7,"hi":2.7},{"g":"I","c":"Malaysia","sex":"M","v":5.9,"lo":4.6,"hi":7.4},
{"g":"I","c":"Thailand","sex":"F","v":1.3,"lo":1.0,"hi":1.75},{"g":"I","c":"Thailand","sex":"M","v":2.8,"lo":2.1,"hi":3.7},
{"g":"I","c":"Philippines","sex":"F","v":0.95,"lo":0.7,"hi":1.2},{"g":"I","c":"Philippines","sex":"M","v":1.88,"lo":1.5,"hi":2.35},
{"g":"I","c":"Viet Nam","sex":"F","v":0.6,"lo":0.4,"hi":0.85},{"g":"I","c":"Viet Nam","sex":"M","v":1.75,"lo":1.2,"hi":2.6},
{"g":"I","c":"Seychelles","sex":"F","v":0.6,"lo":0.4,"hi":0.85},{"g":"I","c":"Seychelles","sex":"M","v":1.65,"lo":0.9,"hi":2.5},
{"g":"I","c":"Indonesia","sex":"F","v":0.75,"lo":0.45,"hi":1.05},{"g":"I","c":"Indonesia","sex":"M","v":1.3,"lo":0.8,"hi":1.95},
{"g":"I","c":"Myanmar","sex":"F","v":0.55,"lo":0.4,"hi":0.75},{"g":"I","c":"Myanmar","sex":"M","v":1.45,"lo":0.9,"hi":2.1},
{"g":"J","c":"Japan","sex":"F","v":3.7,"lo":2.9,"hi":4.2},{"g":"J","c":"Japan","sex":"M","v":6.55,"lo":6.1,"hi":6.85},
{"g":"J","c":"Republic of Korea","sex":"F","v":1.5,"lo":1.1,"hi":1.9},{"g":"J","c":"Republic of Korea","sex":"M","v":2.45,"lo":2.0,"hi":3.0},
{"g":"J","c":"North Korea","sex":"F","v":0.35,"lo":0.2,"hi":0.55},{"g":"J","c":"North Korea","sex":"M","v":0.75,"lo":0.5,"hi":1.05},
{"g":"J","c":"China","sex":"F","v":0.22,"lo":0.12,"hi":0.32},{"g":"J","c":"China","sex":"M","v":0.7,"lo":0.45,"hi":0.95}
]
},
"spacing":4,
"resolve":{"scale":{"color":"independent","opacity":"independent","x":"independent","y":"independent"}},
"vconcat":[
{"spacing":4,"resolve":{"scale":{"color":"independent","opacity":"independent","x":"independent","y":"independent"}},
 "vconcat":[
 {"hconcat":[
  {"width":115,"height":113,"data":{"name":"A"},"title":{"text":"A","anchor":"start","frame":"bounds","fontSize":22,"fontWeight":"bold","dy":18},
   "layer":[
    {"mark":{"type":"area","opacity":0.4,"interpolate":"monotone"},"encoding":{"x":{"field":"x","type":"quantitative","scale":{"domain":[1990,2021]},"axis":{"values":[1990,2000,2010,2021],"tickCount":30,"labels":false,"title":null}},"y":{"field":"nl","type":"quantitative","scale":{"domain":[-1.9,28.1],"nice":false,"zero":false},"axis":{"values":[0,5,10,15,20,25],"tickCount":30,"format":"d","title":"Death number (×10³)"}},"y2":{"field":"nh"},"color":{"field":"s","type":"nominal","scale":{"domain":["Japan","Singapore","Central Asia","Republic of Korea","South Asia","Southeast Asia","GBD East Asia"],"range":["#3dbde9","#e88ac9","#f28d87","#b59bd9","#4ebfa0","#8dc85b","#e2b53d"]},"legend":null}}},
    {"mark":{"type":"line","strokeWidth":0.9,"strokeDash":[2,1.5],"interpolate":"monotone"},"encoding":{"x":{"field":"x","type":"quantitative","axis":{"orient":"top","title":"Asia","labels":false,"ticks":false,"grid":false,"titleFontSize":14,"titlePadding":3}},"y":{"field":"n","type":"quantitative"},"color":{"field":"s","type":"nominal","legend":null}}},
    {"data":{"name":"ann"},"transform":[{"filter":"datum.p=='A1'"}],"mark":{"type":"text","fontSize":16,"baseline":"middle","dy":5},"encoding":{"x":{"field":"x","type":"quantitative","scale":{"domain":[1990,2021]},"axis":null},"y":{"field":"y","type":"quantitative"},"text":{"field":"t"}}}
   ],"resolve":{"axis":{"x":"independent"}}},
  {"width":115,"height":113,"data":{"name":"B"},"title":{"text":"B","anchor":"start","frame":"bounds","fontSize":22,"fontWeight":"bold","dy":18},
   "layer":[
    {"mark":{"type":"area","opacity":0.4,"interpolate":"monotone"},"encoding":{"x":{"field":"x","type":"quantitative","scale":{"domain":[1990,2021]},"axis":{"values":[1990,2000,2010,2021],"tickCount":30,"labels":false,"title":null}},"y":{"field":"nl","type":"quantitative","scale":{"domain":[-1.2,19.8],"nice":false,"zero":false},"axis":{"values":[0,5,10,15],"tickCount":30,"format":"d","title":"Death number (×10³)"}},"y2":{"field":"nh"},"color":{"field":"s","type":"nominal","scale":{"domain":["Bhutan","Pakistan","Bangladesh","India","Nepal"],"range":["#c4c44c","#d292d4","#f28d87","#4ebfa0","#3db8ee"]},"legend":null}}},
    {"mark":{"type":"line","strokeWidth":0.9,"strokeDash":[2,1.5],"interpolate":"monotone"},"encoding":{"x":{"field":"x","type":"quantitative","axis":{"orient":"top","title":"South Asia","labels":false,"ticks":false,"grid":false,"titleFontSize":14,"titlePadding":3}},"y":{"field":"n","type":"quantitative"},"color":{"field":"s","type":"nominal","legend":null}}},
    {"data":{"name":"ann"},"transform":[{"filter":"datum.p=='B1'"}],"mark":{"type":"text","fontSize":16,"baseline":"middle","dy":5},"encoding":{"x":{"field":"x","type":"quantitative","scale":{"domain":[1990,2021]},"axis":null},"y":{"field":"y","type":"quantitative"},"text":{"field":"t"}}}
   ],"resolve":{"axis":{"x":"independent"}}},
  {"width":115,"height":113,"data":{"name":"C"},"title":{"text":"C","anchor":"start","frame":"bounds","fontSize":22,"fontWeight":"bold","dy":18},
   "layer":[
    {"mark":{"type":"area","opacity":0.4,"interpolate":"monotone"},"encoding":{"x":{"field":"x","type":"quantitative","scale":{"domain":[1990,2021]},"axis":{"values":[1990,2000,2010,2021],"tickCount":30,"labels":false,"title":null}},"y":{"field":"nl","type":"quantitative","scale":{"domain":[-0.04,0.49],"nice":false,"zero":false},"axis":{"values":[0,0.1,0.2,0.3,0.4],"tickCount":30,"labelExpr":"datum.value == 0 ? '0' : format(datum.value, '.1f')","title":"Death number (×10³)"}},"y2":{"field":"nh"},"color":{"field":"s","type":"nominal","scale":{"domain":["Armenia","Georgia","Kazakhstan","Turkmenistan","Azerbaijan","Uzbekistan","Kyrgyzstan"],"range":["#f28d87","#a9c94a","#6cc16e","#b59bd9","#e2b04a","#e88ac9","#4ebfb0"]},"legend":null}}},
    {"mark":{"type":"line","strokeWidth":0.9,"strokeDash":[2,1.5],"interpolate":"monotone"},"encoding":{"x":{"field":"x","type":"quantitative","axis":{"orient":"top","title":"Central Asia","labels":false,"ticks":false,"grid":false,"titleFontSize":14,"titlePadding":3}},"y":{"field":"n","type":"quantitative"},"color":{"field":"s","type":"nominal","legend":null}}},
    {"data":{"name":"ann"},"transform":[{"filter":"datum.p=='C1'"}],"mark":{"type":"text","fontSize":16,"baseline":"middle","dy":5},"encoding":{"x":{"field":"x","type":"quantitative","scale":{"domain":[1990,2021]},"axis":null},"y":{"field":"y","type":"quantitative"},"text":{"field":"t"}}}
   ],"resolve":{"axis":{"x":"independent"}}},
  {"width":115,"height":113,"data":{"name":"D"},"title":{"text":"D","anchor":"start","frame":"bounds","fontSize":22,"fontWeight":"bold","dy":18},
   "layer":[
    {"mark":{"type":"area","opacity":0.4,"interpolate":"monotone"},"encoding":{"x":{"field":"x","type":"quantitative","scale":{"domain":[1990,2021]},"axis":{"values":[1990,2000,2010,2021],"tickCount":30,"labels":false,"title":null}},"y":{"field":"nl","type":"quantitative","scale":{"domain":[-0.22,2.9],"nice":false,"zero":false},"axis":{"values":[0,0.5,1,1.5,2,2.5],"tickCount":30,"labelExpr":"datum.value == 0 ? '0' : format(datum.value, '.1f')","title":"Death number (×10³)"}},"y2":{"field":"nh"},"color":{"field":"s","type":"nominal","scale":{"domain":["Malaysia","Thailand","Philippines","Viet Nam","Seychelles","Indonesia","Myanmar"],"range":["#a9c24a","#c993d9","#4dbdd8","#f08aaa","#3db8ee","#eba83d","#4ebfa8"]},"legend":null}}},
    {"mark":{"type":"line","strokeWidth":0.9,"strokeDash":[2,1.5],"interpolate":"monotone"},"encoding":{"x":{"field":"x","type":"quantitative","axis":{"orient":"top","title":"Southeast Asia","labels":false,"ticks":false,"grid":false,"titleFontSize":14,"titlePadding":3}},"y":{"field":"n","type":"quantitative"},"color":{"field":"s","type":"nominal","legend":null}}},
    {"data":{"name":"ann"},"transform":[{"filter":"datum.p=='D1'"}],"mark":{"type":"text","fontSize":16,"baseline":"middle","dy":5},"encoding":{"x":{"field":"x","type":"quantitative","scale":{"domain":[1990,2021]},"axis":null},"y":{"field":"y","type":"quantitative"},"text":{"field":"t"}}}
   ],"resolve":{"axis":{"x":"independent"}}},
  {"width":115,"height":113,"data":{"name":"E"},"title":{"text":"E","anchor":"start","frame":"bounds","fontSize":22,"fontWeight":"bold","dy":18},
   "layer":[
    {"mark":{"type":"area","opacity":0.4,"interpolate":"monotone"},"encoding":{"x":{"field":"x","type":"quantitative","scale":{"domain":[1990,2021]},"axis":{"values":[1990,2000,2010,2021],"tickCount":30,"labels":false,"title":null}},"y":{"field":"nl","type":"quantitative","scale":{"domain":[-2.2,28.3],"nice":false,"zero":false},"axis":{"values":[0,10,20],"tickCount":30,"format":"d","title":"Death number (×10³)"}},"y2":{"field":"nh"},"color":{"field":"s","type":"nominal","scale":{"domain":["Japan","China","North Korea","Republic of Korea"],"range":["#3dbdc9","#f28d87","#afc24a","#d493d9"]},"legend":null}}},
    {"mark":{"type":"line","strokeWidth":0.9,"strokeDash":[2,1.5],"interpolate":"monotone"},"encoding":{"x":{"field":"x","type":"quantitative","axis":{"orient":"top","title":"East Asia","labels":false,"ticks":false,"grid":false,"titleFontSize":14,"titlePadding":3}},"y":{"field":"n","type":"quantitative"},"color":{"field":"s","type":"nominal","legend":null}}},
    {"data":{"name":"ann"},"transform":[{"filter":"datum.p=='E1'"}],"mark":{"type":"text","fontSize":16,"baseline":"middle","dy":5},"encoding":{"x":{"field":"x","type":"quantitative","scale":{"domain":[1990,2021]},"axis":null},"y":{"field":"y","type":"quantitative"},"text":{"field":"t"}}}
   ],"resolve":{"axis":{"x":"independent"}}}
 ],"spacing":45,"bounds":"flush","resolve":{"scale":{"color":"independent","opacity":"independent","x":"independent","y":"independent"}}},
 {"hconcat":[
  {"width":115,"height":112,"data":{"name":"A"},
   "layer":[
    {"mark":{"type":"area","opacity":0.4,"interpolate":"monotone"},"encoding":{"x":{"field":"x","type":"quantitative","scale":{"domain":[1990,2021]},"axis":{"values":[1990,2000,2010,2021],"tickCount":30,"labels":false,"title":null}},"y":{"field":"rl","type":"quantitative","scale":{"domain":[-1,22],"nice":false,"zero":false},"axis":{"values":[0,5,10,15,20],"tickCount":30,"format":"d","title":"Death rate per 100,000"}},"y2":{"field":"rh"},"color":{"field":"s","type":"nominal","scale":{"domain":["Japan","Singapore","Central Asia","Republic of Korea","South Asia","Southeast Asia","GBD East Asia"],"range":["#3dbde9","#e88ac9","#f28d87","#b59bd9","#4ebfa0","#8dc85b","#e2b53d"]},"legend":null}}},
    {"mark":{"type":"line","strokeWidth":0.9,"strokeDash":[2,1.5],"interpolate":"monotone"},"encoding":{"x":{"field":"x","type":"quantitative"},"y":{"field":"r","type":"quantitative"},"color":{"field":"s","type":"nominal","legend":null}}},
    {"data":{"name":"ann"},"transform":[{"filter":"datum.p=='A2'"}],"mark":{"type":"text","fontSize":16,"baseline":"middle","dy":5},"encoding":{"x":{"field":"x","type":"quantitative","scale":{"domain":[1990,2021]}},"y":{"field":"y","type":"quantitative"},"text":{"field":"t"}}}
   ]},
  {"width":115,"height":112,"data":{"name":"B"},
   "layer":[
    {"mark":{"type":"area","opacity":0.4,"interpolate":"monotone"},"encoding":{"x":{"field":"x","type":"quantitative","scale":{"domain":[1990,2021]},"axis":{"values":[1990,2000,2010,2021],"tickCount":30,"labels":false,"title":null}},"y":{"field":"rl","type":"quantitative","scale":{"domain":[-0.06,1.7],"nice":false,"zero":false},"axis":{"values":[0,0.5,1,1.5],"tickCount":30,"labelExpr":"datum.value == 0 ? '0' : format(datum.value, '.1f')","title":"Death rate per 100,000"}},"y2":{"field":"rh"},"color":{"field":"s","type":"nominal","scale":{"domain":["Bhutan","Pakistan","Bangladesh","India","Nepal"],"range":["#c4c44c","#d292d4","#f28d87","#4ebfa0","#3db8ee"]},"legend":null}}},
    {"mark":{"type":"line","strokeWidth":0.9,"strokeDash":[2,1.5],"interpolate":"monotone"},"encoding":{"x":{"field":"x","type":"quantitative"},"y":{"field":"r","type":"quantitative"},"color":{"field":"s","type":"nominal","legend":null}}},
    {"data":{"name":"ann"},"transform":[{"filter":"datum.p=='B2'"}],"mark":{"type":"text","fontSize":16,"baseline":"middle","dy":5},"encoding":{"x":{"field":"x","type":"quantitative","scale":{"domain":[1990,2021]}},"y":{"field":"y","type":"quantitative"},"text":{"field":"t"}}}
   ]},
  {"width":115,"height":112,"data":{"name":"C"},
   "layer":[
    {"mark":{"type":"area","opacity":0.4,"interpolate":"monotone"},"encoding":{"x":{"field":"x","type":"quantitative","scale":{"domain":[1990,2021]},"axis":{"values":[1990,2000,2010,2021],"tickCount":30,"labels":false,"title":null}},"y":{"field":"rl","type":"quantitative","scale":{"domain":[-0.9,16.7],"nice":false,"zero":false},"axis":{"values":[0,5,10,15],"tickCount":30,"format":"d","title":"Death rate per 100,000"}},"y2":{"field":"rh"},"color":{"field":"s","type":"nominal","scale":{"domain":["Armenia","Georgia","Kazakhstan","Turkmenistan","Azerbaijan","Uzbekistan","Kyrgyzstan"],"range":["#f28d87","#a9c94a","#6cc16e","#b59bd9","#e2b04a","#e88ac9","#4ebfb0"]},"legend":null}}},
    {"mark":{"type":"line","strokeWidth":0.9,"strokeDash":[2,1.5],"interpolate":"monotone"},"encoding":{"x":{"field":"x","type":"quantitative"},"y":{"field":"r","type":"quantitative"},"color":{"field":"s","type":"nominal","legend":null}}},
    {"data":{"name":"ann"},"transform":[{"filter":"datum.p=='C2'"}],"mark":{"type":"text","fontSize":16,"baseline":"middle","dy":5},"encoding":{"x":{"field":"x","type":"quantitative","scale":{"domain":[1990,2021]}},"y":{"field":"y","type":"quantitative"},"text":{"field":"t"}}}
   ]},
  {"width":115,"height":112,"data":{"name":"D"},
   "layer":[
    {"mark":{"type":"area","opacity":0.4,"interpolate":"monotone"},"encoding":{"x":{"field":"x","type":"quantitative","scale":{"domain":[1990,2021]},"axis":{"values":[1990,2000,2010,2021],"tickCount":30,"labels":false,"title":null}},"y":{"field":"rl","type":"quantitative","scale":{"domain":[-0.15,4.37],"nice":false,"zero":false},"axis":{"values":[0,1,2,3,4],"tickCount":30,"format":"d","title":"Death rate per 100,000"}},"y2":{"field":"rh"},"color":{"field":"s","type":"nominal","scale":{"domain":["Malaysia","Thailand","Philippines","Viet Nam","Seychelles","Indonesia","Myanmar"],"range":["#a9c24a","#c993d9","#4dbdd8","#f08aaa","#3db8ee","#eba83d","#4ebfa8"]},"legend":null}}},
    {"mark":{"type":"line","strokeWidth":0.9,"strokeDash":[2,1.5],"interpolate":"monotone"},"encoding":{"x":{"field":"x","type":"quantitative"},"y":{"field":"r","type":"quantitative"},"color":{"field":"s","type":"nominal","legend":null}}},
    {"data":{"name":"ann"},"transform":[{"filter":"datum.p=='D2'"}],"mark":{"type":"text","fontSize":16,"baseline":"middle","dy":5},"encoding":{"x":{"field":"x","type":"quantitative","scale":{"domain":[1990,2021]}},"y":{"field":"y","type":"quantitative"},"text":{"field":"t"}}}
   ]},
  {"width":115,"height":112,"data":{"name":"E"},
   "layer":[
    {"mark":{"type":"area","opacity":0.4,"interpolate":"monotone"},"encoding":{"x":{"field":"x","type":"quantitative","scale":{"domain":[1990,2021]},"axis":{"values":[1990,2000,2010,2021],"tickCount":30,"labels":false,"title":null}},"y":{"field":"rl","type":"quantitative","scale":{"domain":[-0.8,22],"nice":false,"zero":false},"axis":{"values":[0,5,10,15,20],"tickCount":30,"format":"d","title":"Death rate per 100,000"}},"y2":{"field":"rh"},"color":{"field":"s","type":"nominal","scale":{"domain":["Japan","China","North Korea","Republic of Korea"],"range":["#3dbdc9","#f28d87","#afc24a","#d493d9"]},"legend":null}}},
    {"mark":{"type":"line","strokeWidth":0.9,"strokeDash":[2,1.5],"interpolate":"monotone"},"encoding":{"x":{"field":"x","type":"quantitative"},"y":{"field":"r","type":"quantitative"},"color":{"field":"s","type":"nominal","legend":null}}},
    {"data":{"name":"ann"},"transform":[{"filter":"datum.p=='E2'"}],"mark":{"type":"text","fontSize":16,"baseline":"middle","dy":5},"encoding":{"x":{"field":"x","type":"quantitative","scale":{"domain":[1990,2021]}},"y":{"field":"y","type":"quantitative"},"text":{"field":"t"}}}
   ]}
 ],"spacing":45,"bounds":"flush","resolve":{"scale":{"color":"independent","opacity":"independent","x":"independent","y":"independent"}}},
 {"hconcat":[
  {"width":115,"height":111,"data":{"name":"A"},
   "layer":[
    {"mark":{"type":"area","opacity":0.4,"interpolate":"monotone"},"encoding":{"x":{"field":"x","type":"quantitative","scale":{"domain":[1990,2021]},"axis":{"values":[1990,2000,2010,2021],"tickCount":30,"format":"d","title":"Year","titleX":-36,"titleY":5,"titleAlign":"left","titleBaseline":"top","titleFontSize":11}},"y":{"field":"al","type":"quantitative","scale":{"domain":[-0.24,5.58],"nice":false,"zero":false},"axis":{"values":[0,1,2,3,4,5],"tickCount":30,"format":"d","title":"ASDR per 100,000"}},"y2":{"field":"ah"},"color":{"field":"s","type":"nominal","scale":{"domain":["Japan","Singapore","Central Asia","Republic of Korea","South Asia","Southeast Asia","GBD East Asia"],"range":["#3dbde9","#e88ac9","#f28d87","#b59bd9","#4ebfa0","#8dc85b","#e2b53d"]},"legend":{"orient":"none","legendX":-20,"legendY":132,"direction":"horizontal","columns":2,"gridAlign":"none","title":null,"symbolType":"square","symbolSize":120,"symbolOpacity":0.45,"symbolStrokeWidth":0,"labelFontSize":10.5,"labelOffset":3,"columnPadding":5,"rowPadding":1}}}},
    {"mark":{"type":"line","strokeWidth":0.9,"strokeDash":[2,1.5],"interpolate":"monotone"},"encoding":{"x":{"field":"x","type":"quantitative"},"y":{"field":"a","type":"quantitative"},"color":{"field":"s","type":"nominal"}}},
    {"data":{"name":"ann"},"transform":[{"filter":"datum.p=='A3'"}],"mark":{"type":"text","fontSize":16,"baseline":"middle","dy":5},"encoding":{"x":{"field":"x","type":"quantitative","scale":{"domain":[1990,2021]}},"y":{"field":"y","type":"quantitative"},"text":{"field":"t"}}},
    {"data":{"name":"wd"},"transform":[{"filter":"datum.p=='A3'"}],"mark":{"type":"text","fontSize":11,"baseline":"middle"},"encoding":{"x":{"field":"x","type":"quantitative","scale":{"domain":[1990,2021]}},"y":{"field":"y","type":"quantitative"},"text":{"field":"t"}}}
   ]},
  {"width":115,"height":111,"data":{"name":"B"},
   "layer":[
    {"mark":{"type":"area","opacity":0.4,"interpolate":"monotone"},"encoding":{"x":{"field":"x","type":"quantitative","scale":{"domain":[1990,2021]},"axis":{"values":[1990,2000,2010,2021],"tickCount":30,"format":"d","title":null}},"y":{"field":"al","type":"quantitative","scale":{"domain":[-0.1,2.27],"nice":false,"zero":false},"axis":{"values":[0,1,2],"tickCount":30,"format":"d","title":"ASDR per 100,000"}},"y2":{"field":"ah"},"color":{"field":"s","type":"nominal","scale":{"domain":["Bhutan","Pakistan","Bangladesh","India","Nepal"],"range":["#c4c44c","#d292d4","#f28d87","#4ebfa0","#3db8ee"]},"legend":{"orient":"none","legendX":2,"legendY":132,"direction":"horizontal","columns":2,"gridAlign":"none","title":null,"symbolType":"square","symbolSize":120,"symbolOpacity":0.45,"symbolStrokeWidth":0,"labelFontSize":10.5,"labelOffset":3,"columnPadding":5,"rowPadding":1}}}},
    {"mark":{"type":"line","strokeWidth":0.9,"strokeDash":[2,1.5],"interpolate":"monotone"},"encoding":{"x":{"field":"x","type":"quantitative"},"y":{"field":"a","type":"quantitative"},"color":{"field":"s","type":"nominal"}}},
    {"data":{"name":"ann"},"transform":[{"filter":"datum.p=='B3'"}],"mark":{"type":"text","fontSize":16,"baseline":"middle","dy":5},"encoding":{"x":{"field":"x","type":"quantitative","scale":{"domain":[1990,2021]}},"y":{"field":"y","type":"quantitative"},"text":{"field":"t"}}}
   ]},
  {"width":115,"height":111,"data":{"name":"C"},
   "layer":[
    {"mark":{"type":"area","opacity":0.4,"interpolate":"monotone"},"encoding":{"x":{"field":"x","type":"quantitative","scale":{"domain":[1990,2021]},"axis":{"values":[1990,2000,2010,2021],"tickCount":30,"format":"d","title":null}},"y":{"field":"al","type":"quantitative","scale":{"domain":[-0.5,11.3],"nice":false,"zero":false},"axis":{"values":[0,2,4,6,8,10],"tickCount":30,"format":"d","title":"ASDR per 100,000"}},"y2":{"field":"ah"},"color":{"field":"s","type":"nominal","scale":{"domain":["Armenia","Georgia","Kazakhstan","Turkmenistan","Azerbaijan","Uzbekistan","Kyrgyzstan"],"range":["#f28d87","#a9c94a","#6cc16e","#b59bd9","#e2b04a","#e88ac9","#4ebfb0"]},"legend":{"orient":"none","legendX":-28,"legendY":132,"direction":"horizontal","columns":2,"gridAlign":"none","title":null,"symbolType":"square","symbolSize":120,"symbolOpacity":0.45,"symbolStrokeWidth":0,"labelFontSize":10.5,"labelOffset":3,"columnPadding":5,"rowPadding":1}}}},
    {"mark":{"type":"line","strokeWidth":0.9,"strokeDash":[2,1.5],"interpolate":"monotone"},"encoding":{"x":{"field":"x","type":"quantitative"},"y":{"field":"a","type":"quantitative"},"color":{"field":"s","type":"nominal"}}},
    {"data":{"name":"ann"},"transform":[{"filter":"datum.p=='C3'"}],"mark":{"type":"text","fontSize":16,"baseline":"middle","dy":5},"encoding":{"x":{"field":"x","type":"quantitative","scale":{"domain":[1990,2021]}},"y":{"field":"y","type":"quantitative"},"text":{"field":"t"}}}
   ]},
  {"width":115,"height":111,"data":{"name":"D"},
   "layer":[
    {"mark":{"type":"area","opacity":0.4,"interpolate":"monotone"},"encoding":{"x":{"field":"x","type":"quantitative","scale":{"domain":[1990,2021]},"axis":{"values":[1990,2000,2010,2021],"tickCount":30,"format":"d","title":null}},"y":{"field":"al","type":"quantitative","scale":{"domain":[-0.22,5.25],"nice":false,"zero":false},"axis":{"values":[0,1,2,3,4,5],"tickCount":30,"format":"d","title":"ASDR per 100,000"}},"y2":{"field":"ah"},"color":{"field":"s","type":"nominal","scale":{"domain":["Malaysia","Thailand","Philippines","Viet Nam","Seychelles","Indonesia","Myanmar"],"range":["#a9c24a","#c993d9","#4dbdd8","#f08aaa","#3db8ee","#eba83d","#4ebfa8"]},"legend":{"orient":"none","legendX":-20,"legendY":132,"direction":"horizontal","columns":2,"gridAlign":"none","title":null,"symbolType":"square","symbolSize":120,"symbolOpacity":0.45,"symbolStrokeWidth":0,"labelFontSize":10.5,"labelOffset":3,"columnPadding":5,"rowPadding":1}}}},
    {"mark":{"type":"line","strokeWidth":0.9,"strokeDash":[2,1.5],"interpolate":"monotone"},"encoding":{"x":{"field":"x","type":"quantitative"},"y":{"field":"a","type":"quantitative"},"color":{"field":"s","type":"nominal"}}},
    {"data":{"name":"ann"},"transform":[{"filter":"datum.p=='D3'"}],"mark":{"type":"text","fontSize":16,"baseline":"middle","dy":5},"encoding":{"x":{"field":"x","type":"quantitative","scale":{"domain":[1990,2021]}},"y":{"field":"y","type":"quantitative"},"text":{"field":"t"}}},
    {"data":{"name":"wd"},"transform":[{"filter":"datum.p=='D3'"}],"mark":{"type":"text","fontSize":11,"baseline":"middle"},"encoding":{"x":{"field":"x","type":"quantitative","scale":{"domain":[1990,2021]}},"y":{"field":"y","type":"quantitative"},"text":{"field":"t"}}}
   ]},
  {"width":115,"height":111,"data":{"name":"E"},
   "layer":[
    {"mark":{"type":"area","opacity":0.4,"interpolate":"monotone"},"encoding":{"x":{"field":"x","type":"quantitative","scale":{"domain":[1990,2021]},"axis":{"values":[1990,2000,2010,2021],"tickCount":30,"format":"d","title":null}},"y":{"field":"al","type":"quantitative","scale":{"domain":[-0.27,5.82],"nice":false,"zero":false},"axis":{"values":[0,1,2,3,4,5],"tickCount":30,"format":"d","title":"ASDR per 100,000"}},"y2":{"field":"ah"},"color":{"field":"s","type":"nominal","scale":{"domain":["Japan","China","North Korea","Republic of Korea"],"range":["#3dbdc9","#f28d87","#afc24a","#d493d9"]},"legend":{"orient":"none","legendX":10,"legendY":132,"direction":"horizontal","columns":1,"gridAlign":"none","title":null,"symbolType":"square","symbolSize":120,"symbolOpacity":0.45,"symbolStrokeWidth":0,"labelFontSize":10.5,"labelOffset":3,"columnPadding":5,"rowPadding":1}}}},
    {"mark":{"type":"line","strokeWidth":0.9,"strokeDash":[2,1.5],"interpolate":"monotone"},"encoding":{"x":{"field":"x","type":"quantitative"},"y":{"field":"a","type":"quantitative"},"color":{"field":"s","type":"nominal"}}},
    {"data":{"name":"ann"},"transform":[{"filter":"datum.p=='E3'"}],"mark":{"type":"text","fontSize":16,"baseline":"middle","dy":5},"encoding":{"x":{"field":"x","type":"quantitative","scale":{"domain":[1990,2021]}},"y":{"field":"y","type":"quantitative"},"text":{"field":"t"}}},
    {"data":{"name":"wd"},"transform":[{"filter":"datum.p=='E3'"}],"mark":{"type":"text","fontSize":11,"baseline":"middle"},"encoding":{"x":{"field":"x","type":"quantitative","scale":{"domain":[1990,2021]}},"y":{"field":"y","type":"quantitative"},"text":{"field":"t"}}}
   ]}
 ],"spacing":45,"bounds":"flush","resolve":{"scale":{"color":"independent","opacity":"independent","x":"independent","y":"independent"}}}
 ]},
{"spacing":1,"resolve":{"scale":{"color":"independent","opacity":"independent","x":"independent","y":"independent"}},
 "vconcat":[
 {"hconcat":[
  {"width":115,"height":110,"data":{"name":"tot"},"transform":[{"filter":"datum.g=='F'"}],"title":{"text":"F","anchor":"start","frame":"bounds","fontSize":22,"fontWeight":"bold","dy":18},
   "layer":[
    {"mark":{"type":"bar","opacity":0.8},"encoding":{"x":{"field":"c","type":"nominal","sort":null,"scale":{"paddingInner":0.25,"paddingOuter":0.15},"axis":{"labels":false,"title":null,"grid":true}},"y":{"field":"v","type":"quantitative","scale":{"domain":[-0.17,5.67],"nice":false,"zero":false},"axis":{"values":[0,1,2,3,4,5],"tickCount":30,"format":"d","title":"ASDR per 100,000"}},"y2":{"datum":0},"color":{"field":"c","type":"nominal","scale":{"domain":["Japan","Singapore","Central Asia","Republic of Korea","South Asia","Southeast Asia","GBD East Asia"],"range":["#3dbde9","#e88ac9","#f28d87","#b59bd9","#4ebfa0","#8dc85b","#e2b53d"]},"legend":null}}},
    {"mark":{"type":"rule","color":"#777","strokeWidth":0.7},"encoding":{"x":{"field":"c","type":"nominal","sort":null,"axis":{"orient":"top","labels":false,"ticks":false,"grid":false,"title":"Asia","titleFontSize":14,"titlePadding":3}},"y":{"field":"lo","type":"quantitative"},"y2":{"field":"hi"}}},
    {"transform":[{"fold":["lo","hi"],"as":["k","e"]}],"mark":{"type":"tick","orient":"horizontal","color":"#777","size":5,"thickness":0.7},"encoding":{"x":{"field":"c","type":"nominal","sort":null,"axis":null},"y":{"field":"e","type":"quantitative"}}}
   ],"resolve":{"axis":{"x":"independent"}}},
  {"width":115,"height":110,"data":{"name":"tot"},"transform":[{"filter":"datum.g=='G'"}],"title":{"text":"G","anchor":"start","frame":"bounds","fontSize":22,"fontWeight":"bold","dy":18},
   "layer":[
    {"mark":{"type":"bar","opacity":0.8},"encoding":{"x":{"field":"c","type":"nominal","sort":null,"scale":{"paddingInner":0.25,"paddingOuter":0.15},"axis":{"labels":false,"title":null,"grid":true}},"y":{"field":"v","type":"quantitative","scale":{"domain":[-0.07,2.23],"nice":false,"zero":false},"axis":{"values":[0,1,2],"tickCount":30,"format":"d","title":"ASDR per 100,000"}},"y2":{"datum":0},"color":{"field":"c","type":"nominal","scale":{"domain":["Bhutan","Pakistan","Bangladesh","India","Nepal"],"range":["#c4c44c","#d292d4","#f28d87","#4ebfa0","#3db8ee"]},"legend":null}}},
    {"mark":{"type":"rule","color":"#777","strokeWidth":0.7},"encoding":{"x":{"field":"c","type":"nominal","sort":null,"axis":{"orient":"top","labels":false,"ticks":false,"grid":false,"title":"South Asia","titleFontSize":14,"titlePadding":3}},"y":{"field":"lo","type":"quantitative"},"y2":{"field":"hi"}}},
    {"transform":[{"fold":["lo","hi"],"as":["k","e"]}],"mark":{"type":"tick","orient":"horizontal","color":"#777","size":5,"thickness":0.7},"encoding":{"x":{"field":"c","type":"nominal","sort":null,"axis":null},"y":{"field":"e","type":"quantitative"}}}
   ],"resolve":{"axis":{"x":"independent"}}},
  {"width":115,"height":110,"data":{"name":"tot"},"transform":[{"filter":"datum.g=='H'"}],"title":{"text":"H","anchor":"start","frame":"bounds","fontSize":22,"fontWeight":"bold","dy":18},
   "layer":[
    {"mark":{"type":"bar","opacity":0.8},"encoding":{"x":{"field":"c","type":"nominal","sort":null,"scale":{"paddingInner":0.25,"paddingOuter":0.15},"axis":{"labels":false,"title":null,"grid":true}},"y":{"field":"v","type":"quantitative","scale":{"domain":[-0.36,11.15],"nice":false,"zero":false},"axis":{"values":[0,2,4,6,8,10],"tickCount":30,"format":"d","title":"ASDR per 100,000"}},"y2":{"datum":0},"color":{"field":"c","type":"nominal","scale":{"domain":["Armenia","Georgia","Kazakhstan","Turkmenistan","Azerbaijan","Uzbekistan","Kyrgyzstan"],"range":["#f28d87","#a9c94a","#6cc16e","#b59bd9","#e2b04a","#e88ac9","#4ebfb0"]},"legend":null}}},
    {"mark":{"type":"rule","color":"#777","strokeWidth":0.7},"encoding":{"x":{"field":"c","type":"nominal","sort":null,"axis":{"orient":"top","labels":false,"ticks":false,"grid":false,"title":"Central Asia","titleFontSize":14,"titlePadding":3}},"y":{"field":"lo","type":"quantitative"},"y2":{"field":"hi"}}},
    {"transform":[{"fold":["lo","hi"],"as":["k","e"]}],"mark":{"type":"tick","orient":"horizontal","color":"#777","size":5,"thickness":0.7},"encoding":{"x":{"field":"c","type":"nominal","sort":null,"axis":null},"y":{"field":"e","type":"quantitative"}}}
   ],"resolve":{"axis":{"x":"independent"}}},
  {"width":115,"height":110,"data":{"name":"tot"},"transform":[{"filter":"datum.g=='I'"}],"title":{"text":"I","anchor":"start","frame":"bounds","fontSize":22,"fontWeight":"bold","dy":18},
   "layer":[
    {"mark":{"type":"bar","opacity":0.8},"encoding":{"x":{"field":"c","type":"nominal","sort":null,"scale":{"paddingInner":0.25,"paddingOuter":0.15},"axis":{"labels":false,"title":null,"grid":true}},"y":{"field":"v","type":"quantitative","scale":{"domain":[-0.16,5.1],"nice":false,"zero":false},"axis":{"values":[0,1,2,3,4,5],"tickCount":30,"format":"d","title":"ASDR per 100,000"}},"y2":{"datum":0},"color":{"field":"c","type":"nominal","scale":{"domain":["Malaysia","Thailand","Philippines","Viet Nam","Seychelles","Indonesia","Myanmar"],"range":["#a9c24a","#c993d9","#4dbdd8","#f08aaa","#3db8ee","#eba83d","#4ebfa8"]},"legend":null}}},
    {"mark":{"type":"rule","color":"#777","strokeWidth":0.7},"encoding":{"x":{"field":"c","type":"nominal","sort":null,"axis":{"orient":"top","labels":false,"ticks":false,"grid":false,"title":"Southeast Asia","titleFontSize":14,"titlePadding":3}},"y":{"field":"lo","type":"quantitative"},"y2":{"field":"hi"}}},
    {"transform":[{"fold":["lo","hi"],"as":["k","e"]}],"mark":{"type":"tick","orient":"horizontal","color":"#777","size":5,"thickness":0.7},"encoding":{"x":{"field":"c","type":"nominal","sort":null,"axis":null},"y":{"field":"e","type":"quantitative"}}}
   ],"resolve":{"axis":{"x":"independent"}}},
  {"width":115,"height":110,"data":{"name":"tot"},"transform":[{"filter":"datum.g=='J'"}],"title":{"text":"J","anchor":"start","frame":"bounds","fontSize":22,"fontWeight":"bold","dy":18},
   "layer":[
    {"mark":{"type":"bar","opacity":0.8},"encoding":{"x":{"field":"c","type":"nominal","sort":null,"scale":{"paddingInner":0.25,"paddingOuter":0.15},"axis":{"labels":false,"title":null,"grid":true}},"y":{"field":"v","type":"quantitative","scale":{"domain":[-0.2,5.67],"nice":false,"zero":false},"axis":{"values":[0,1,2,3,4,5],"tickCount":30,"format":"d","title":"ASDR per 100,000"}},"y2":{"datum":0},"color":{"field":"c","type":"nominal","scale":{"domain":["Japan","Republic of Korea","North Korea","China"],"range":["#3dbdc9","#c49ad9","#8fcb55","#f28d87"]},"legend":null}}},
    {"mark":{"type":"rule","color":"#777","strokeWidth":0.7},"encoding":{"x":{"field":"c","type":"nominal","sort":null,"axis":{"orient":"top","labels":false,"ticks":false,"grid":false,"title":"East Asia","titleFontSize":14,"titlePadding":3}},"y":{"field":"lo","type":"quantitative"},"y2":{"field":"hi"}}},
    {"transform":[{"fold":["lo","hi"],"as":["k","e"]}],"mark":{"type":"tick","orient":"horizontal","color":"#777","size":5,"thickness":0.7},"encoding":{"x":{"field":"c","type":"nominal","sort":null,"axis":null},"y":{"field":"e","type":"quantitative"}}}
   ],"resolve":{"axis":{"x":"independent"}}}
 ],"spacing":45,"bounds":"flush","resolve":{"scale":{"color":"independent","opacity":"independent","x":"independent","y":"independent"}}},
 {"hconcat":[
  {"width":115,"height":111,"data":{"name":"sx"},"transform":[{"filter":"datum.g=='F'"}],
   "layer":[
    {"transform":[{"filter":"datum.sex=='F'"}],"mark":{"type":"rule","color":"#d2d2d2","strokeWidth":2.5},"encoding":{"x":{"field":"c","type":"nominal","sort":null,"bandPosition":1}}},
    {"mark":{"type":"bar"},"encoding":{"x":{"field":"c","type":"nominal","sort":null,"scale":{"paddingInner":0,"paddingOuter":0},"axis":{"labelAngle":-45,"title":null,"grid":false,"labelFontSize":10,"labelPadding":1}},"xOffset":{"field":"sex","type":"nominal","scale":{"domain":["F","M"],"paddingOuter":0.1,"paddingInner":0}},"y":{"field":"v","type":"quantitative","scale":{"domain":[-0.35,7.18],"nice":false,"zero":false},"axis":{"values":[0,2,4,6],"tickCount":30,"format":"d","title":"ASDR per 100,000"}},"y2":{"datum":0},"color":{"field":"c","type":"nominal","scale":{"domain":["Japan","Singapore","Central Asia","Republic of Korea","South Asia","Southeast Asia","GBD East Asia"],"range":["#3dbde9","#e88ac9","#f28d87","#b59bd9","#4ebfa0","#8dc85b","#e2b53d"]},"legend":null},"opacity":{"field":"sex","type":"nominal","scale":{"domain":["F","M"],"range":[0.3,0.75]},"legend":null}}},
    {"mark":{"type":"rule","color":"#999","strokeWidth":0.6},"encoding":{"x":{"field":"c","type":"nominal","sort":null},"xOffset":{"field":"sex","type":"nominal"},"y":{"field":"lo","type":"quantitative"},"y2":{"field":"hi"}}},
    {"mark":{"type":"text","fontSize":9,"fontWeight":"bold","baseline":"top","dy":3,"color":"#333"},"encoding":{"x":{"field":"c","type":"nominal","sort":null},"xOffset":{"field":"sex","type":"nominal"},"y":{"field":"v","type":"quantitative"},"text":{"field":"sex"}}}
   ]},
  {"width":115,"height":111,"data":{"name":"sx"},"transform":[{"filter":"datum.g=='G'"}],
   "layer":[
    {"transform":[{"filter":"datum.sex=='F'"}],"mark":{"type":"rule","color":"#d2d2d2","strokeWidth":2.5},"encoding":{"x":{"field":"c","type":"nominal","sort":null,"bandPosition":1}}},
    {"mark":{"type":"bar"},"encoding":{"x":{"field":"c","type":"nominal","sort":null,"scale":{"paddingInner":0,"paddingOuter":0},"axis":{"labelAngle":-45,"title":null,"grid":false,"labelFontSize":10,"labelPadding":1}},"xOffset":{"field":"sex","type":"nominal","scale":{"domain":["F","M"],"paddingOuter":0.1,"paddingInner":0}},"y":{"field":"v","type":"quantitative","scale":{"domain":[-0.16,3.32],"nice":false,"zero":false},"axis":{"values":[0,1,2,3],"tickCount":30,"format":"d","title":"ASDR per 100,000"}},"y2":{"datum":0},"color":{"field":"c","type":"nominal","scale":{"domain":["Bhutan","Pakistan","Bangladesh","India","Nepal"],"range":["#c4c44c","#d292d4","#f28d87","#4ebfa0","#3db8ee"]},"legend":null},"opacity":{"field":"sex","type":"nominal","scale":{"domain":["F","M"],"range":[0.3,0.75]},"legend":null}}},
    {"mark":{"type":"rule","color":"#999","strokeWidth":0.6},"encoding":{"x":{"field":"c","type":"nominal","sort":null},"xOffset":{"field":"sex","type":"nominal"},"y":{"field":"lo","type":"quantitative"},"y2":{"field":"hi"}}},
    {"mark":{"type":"text","fontSize":9,"fontWeight":"bold","baseline":"top","dy":3,"color":"#333"},"encoding":{"x":{"field":"c","type":"nominal","sort":null},"xOffset":{"field":"sex","type":"nominal"},"y":{"field":"v","type":"quantitative"},"text":{"field":"sex"}}}
   ]},
  {"width":115,"height":111,"data":{"name":"sx"},"transform":[{"filter":"datum.g=='H'"}],
   "layer":[
    {"transform":[{"filter":"datum.sex=='F'"}],"mark":{"type":"rule","color":"#d2d2d2","strokeWidth":2.5},"encoding":{"x":{"field":"c","type":"nominal","sort":null,"bandPosition":1}}},
    {"mark":{"type":"bar"},"encoding":{"x":{"field":"c","type":"nominal","sort":null,"scale":{"paddingInner":0,"paddingOuter":0},"axis":{"labelAngle":-45,"title":null,"grid":false,"labelFontSize":10,"labelPadding":1}},"xOffset":{"field":"sex","type":"nominal","scale":{"domain":["F","M"],"paddingOuter":0.1,"paddingInner":0}},"y":{"field":"v","type":"quantitative","scale":{"domain":[-0.8,17.4],"nice":false,"zero":false},"axis":{"values":[0,4,8,12,16],"tickCount":30,"format":"d","title":"ASDR per 100,000"}},"y2":{"datum":0},"color":{"field":"c","type":"nominal","scale":{"domain":["Armenia","Georgia","Kazakhstan","Turkmenistan","Azerbaijan","Uzbekistan","Kyrgyzstan"],"range":["#f28d87","#a9c94a","#6cc16e","#b59bd9","#e2b04a","#e88ac9","#4ebfb0"]},"legend":null},"opacity":{"field":"sex","type":"nominal","scale":{"domain":["F","M"],"range":[0.3,0.75]},"legend":null}}},
    {"mark":{"type":"rule","color":"#999","strokeWidth":0.6},"encoding":{"x":{"field":"c","type":"nominal","sort":null},"xOffset":{"field":"sex","type":"nominal"},"y":{"field":"lo","type":"quantitative"},"y2":{"field":"hi"}}},
    {"mark":{"type":"text","fontSize":9,"fontWeight":"bold","baseline":"top","dy":3,"color":"#333"},"encoding":{"x":{"field":"c","type":"nominal","sort":null},"xOffset":{"field":"sex","type":"nominal"},"y":{"field":"v","type":"quantitative"},"text":{"field":"sex"}}}
   ]},
  {"width":115,"height":111,"data":{"name":"sx"},"transform":[{"filter":"datum.g=='I'"}],
   "layer":[
    {"transform":[{"filter":"datum.sex=='F'"}],"mark":{"type":"rule","color":"#d2d2d2","strokeWidth":2.5},"encoding":{"x":{"field":"c","type":"nominal","sort":null,"bandPosition":1}}},
    {"mark":{"type":"bar"},"encoding":{"x":{"field":"c","type":"nominal","sort":null,"scale":{"paddingInner":0,"paddingOuter":0},"axis":{"labelAngle":-45,"title":null,"grid":false,"labelFontSize":10,"labelPadding":1}},"xOffset":{"field":"sex","type":"nominal","scale":{"domain":["F","M"],"paddingOuter":0.1,"paddingInner":0}},"y":{"field":"v","type":"quantitative","scale":{"domain":[-0.37,7.7],"nice":false,"zero":false},"axis":{"values":[0,2,4,6],"tickCount":30,"format":"d","title":"ASDR per 100,000"}},"y2":{"datum":0},"color":{"field":"c","type":"nominal","scale":{"domain":["Malaysia","Thailand","Philippines","Viet Nam","Seychelles","Indonesia","Myanmar"],"range":["#a9c24a","#c993d9","#4dbdd8","#f08aaa","#3db8ee","#eba83d","#4ebfa8"]},"legend":null},"opacity":{"field":"sex","type":"nominal","scale":{"domain":["F","M"],"range":[0.3,0.75]},"legend":null}}},
    {"mark":{"type":"rule","color":"#999","strokeWidth":0.6},"encoding":{"x":{"field":"c","type":"nominal","sort":null},"xOffset":{"field":"sex","type":"nominal"},"y":{"field":"lo","type":"quantitative"},"y2":{"field":"hi"}}},
    {"mark":{"type":"text","fontSize":9,"fontWeight":"bold","baseline":"top","dy":3,"color":"#333"},"encoding":{"x":{"field":"c","type":"nominal","sort":null},"xOffset":{"field":"sex","type":"nominal"},"y":{"field":"v","type":"quantitative"},"text":{"field":"sex"}}}
   ]},
  {"width":115,"height":111,"data":{"name":"sx"},"transform":[{"filter":"datum.g=='J'"}],
   "layer":[
    {"transform":[{"filter":"datum.sex=='F'"}],"mark":{"type":"rule","color":"#d2d2d2","strokeWidth":2.5},"encoding":{"x":{"field":"c","type":"nominal","sort":null,"bandPosition":1}}},
    {"mark":{"type":"bar"},"encoding":{"x":{"field":"c","type":"nominal","sort":null,"scale":{"paddingInner":0,"paddingOuter":0},"axis":{"labelAngle":-45,"title":null,"grid":false,"labelFontSize":10,"labelPadding":1}},"xOffset":{"field":"sex","type":"nominal","scale":{"domain":["F","M"],"paddingOuter":0.1,"paddingInner":0}},"y":{"field":"v","type":"quantitative","scale":{"domain":[-0.24,7.26],"nice":false,"zero":false},"axis":{"values":[0,2,4,6],"tickCount":30,"format":"d","title":"ASDR per 100,000"}},"y2":{"datum":0},"color":{"field":"c","type":"nominal","scale":{"domain":["Japan","Republic of Korea","North Korea","China"],"range":["#3dbdc9","#c49ad9","#8fcb55","#f28d87"]},"legend":null},"opacity":{"field":"sex","type":"nominal","scale":{"domain":["F","M"],"range":[0.3,0.75]},"legend":null}}},
    {"mark":{"type":"rule","color":"#999","strokeWidth":0.6},"encoding":{"x":{"field":"c","type":"nominal","sort":null},"xOffset":{"field":"sex","type":"nominal"},"y":{"field":"lo","type":"quantitative"},"y2":{"field":"hi"}}},
    {"mark":{"type":"text","fontSize":9,"fontWeight":"bold","baseline":"top","dy":3,"color":"#333"},"encoding":{"x":{"field":"c","type":"nominal","sort":null},"xOffset":{"field":"sex","type":"nominal"},"y":{"field":"v","type":"quantitative"},"text":{"field":"sex"}}}
   ]}
 ],"spacing":45,"bounds":"flush","resolve":{"scale":{"color":"independent","opacity":"independent","x":"independent","y":"independent"}}}
 ]}
]
}
